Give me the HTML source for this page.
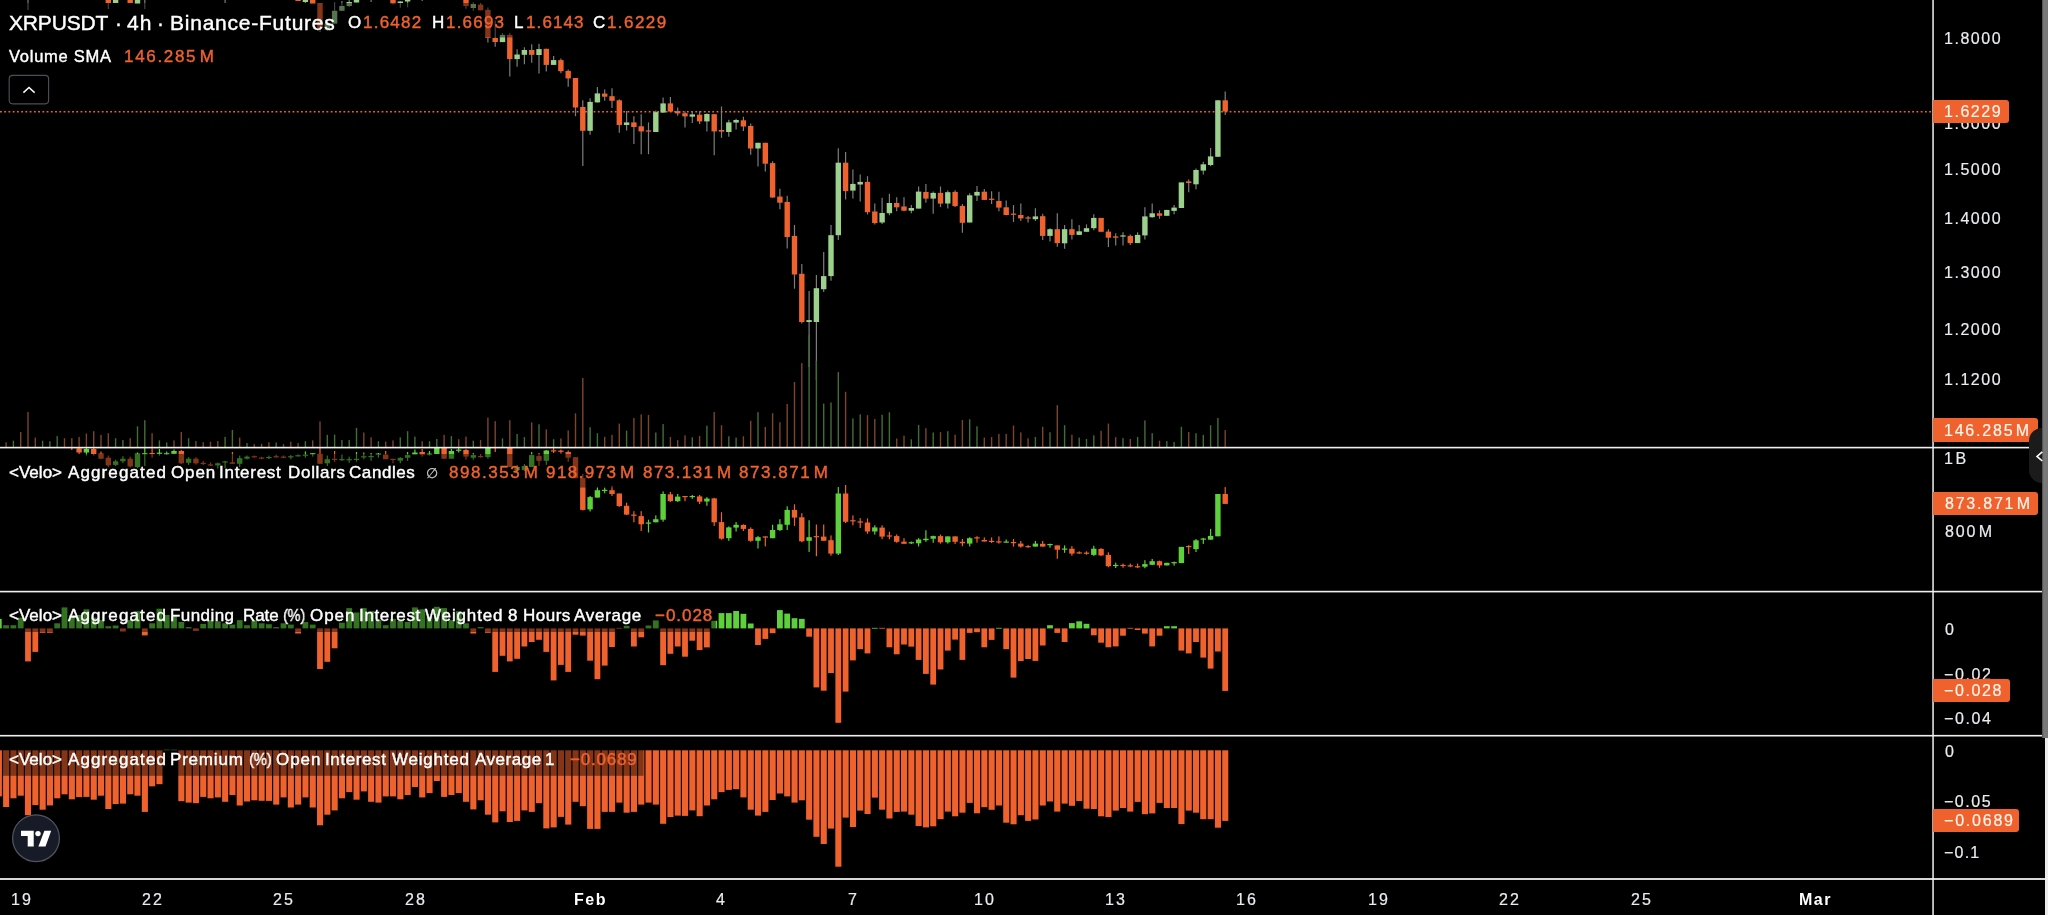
<!DOCTYPE html>
<html lang="en"><head><meta charset="utf-8"><title>XRPUSDT 4h Binance-Futures</title>
<style>
html,body{margin:0;padding:0;background:#000;}
body{width:2048px;height:915px;position:relative;overflow:hidden;font-family:"Liberation Sans",sans-serif;}
.t{position:absolute;white-space:pre;line-height:1;will-change:transform;}
.lg{-webkit-text-stroke:0.42px currentColor;}
.ax{-webkit-text-stroke:0.18px currentColor;}
.ts{display:inline-block;width:1.5px}
.lg .ts{width:2.5px}
.tag{position:absolute;left:1933px;background:#f0622d;border-radius:0 3px 3px 0;}
.t span{display:inline-block}

</style></head><body>
<svg width="2048" height="915" viewBox="0 0 2048 915" style="position:absolute;left:0;top:0">
<defs><clipPath id="c0"><rect x="0" y="0" width="1932" height="447"/></clipPath><clipPath id="c1"><rect x="0" y="448" width="1932" height="143"/></clipPath><clipPath id="c2"><rect x="0" y="592" width="1932" height="143"/></clipPath><clipPath id="c3"><rect x="0" y="736" width="1932" height="143"/></clipPath></defs>
<rect width="2048" height="915" fill="#000"/>
<g clip-path="url(#c0)">
<line x1="0" y1="111.7" x2="1933" y2="111.7" stroke="#f0622d" stroke-width="1.6" stroke-dasharray="1.8 2.44"/>
<g stroke="#7d7d80" stroke-width="1.2">
<line x1="298.1" y1="-5" x2="298.1" y2="1"/>
<line x1="305.4" y1="-3" x2="305.4" y2="3"/>
<line x1="312.7" y1="-3" x2="312.7" y2="4"/>
<line x1="320" y1="3" x2="320" y2="32"/>
<line x1="327.3" y1="23" x2="327.3" y2="31"/>
<line x1="334.6" y1="2.5" x2="334.6" y2="23.6"/>
<line x1="341.9" y1="1" x2="341.9" y2="10.8"/>
<line x1="349.2" y1="0" x2="349.2" y2="7"/>
<line x1="356.5" y1="-2" x2="356.5" y2="2.5"/>
<line x1="371.1" y1="-3" x2="371.1" y2="2"/>
<line x1="393" y1="-2" x2="393" y2="4.6"/>
<line x1="400.3" y1="1" x2="400.3" y2="7.7"/>
<line x1="407.6" y1="-2" x2="407.6" y2="7.2"/>
<line x1="422.2" y1="-3" x2="422.2" y2="1"/>
<line x1="466" y1="-2" x2="466" y2="8.7"/>
<line x1="473.3" y1="2.5" x2="473.3" y2="10.8"/>
<line x1="480.6" y1="3" x2="480.6" y2="10.3"/>
<line x1="487.9" y1="7.5" x2="487.9" y2="42.6"/>
<line x1="495.2" y1="20.5" x2="495.2" y2="46.7"/>
<line x1="502.5" y1="32.9" x2="502.5" y2="42.1"/>
<line x1="509.8" y1="32.9" x2="509.8" y2="76.5"/>
<line x1="517.1" y1="49.3" x2="517.1" y2="66.8"/>
<line x1="524.4" y1="47.3" x2="524.4" y2="64.2"/>
<line x1="531.7" y1="44.2" x2="531.7" y2="62.7"/>
<line x1="539" y1="43.7" x2="539" y2="73.5"/>
<line x1="546.3" y1="48.8" x2="546.3" y2="71.4"/>
<line x1="553.6" y1="56" x2="553.6" y2="64.9"/>
<line x1="560.9" y1="58.6" x2="560.9" y2="73.2"/>
<line x1="568.2" y1="69.4" x2="568.2" y2="86.8"/>
<line x1="575.5" y1="78" x2="575.5" y2="116.2"/>
<line x1="582.8" y1="100.3" x2="582.8" y2="166"/>
<line x1="590.1" y1="98.3" x2="590.1" y2="134.7"/>
<line x1="597.4" y1="87" x2="597.4" y2="102.4"/>
<line x1="604.7" y1="89.5" x2="604.7" y2="100.8"/>
<line x1="612" y1="88.3" x2="612" y2="108"/>
<line x1="619.3" y1="99.3" x2="619.3" y2="132.7"/>
<line x1="626.6" y1="111" x2="626.6" y2="130.6"/>
<line x1="633.9" y1="116.2" x2="633.9" y2="144"/>
<line x1="641.2" y1="114.2" x2="641.2" y2="154.2"/>
<line x1="648.5" y1="122.4" x2="648.5" y2="154.2"/>
<line x1="655.8" y1="110.6" x2="655.8" y2="132"/>
<line x1="663.1" y1="97.5" x2="663.1" y2="112.6"/>
<line x1="670.4" y1="96.9" x2="670.4" y2="111.6"/>
<line x1="677.7" y1="107.5" x2="677.7" y2="115.7"/>
<line x1="685" y1="111.6" x2="685" y2="127.5"/>
<line x1="692.3" y1="111" x2="692.3" y2="122.9"/>
<line x1="699.6" y1="111" x2="699.6" y2="124"/>
<line x1="706.9" y1="113.2" x2="706.9" y2="131.6"/>
<line x1="714.2" y1="114.2" x2="714.2" y2="155.3"/>
<line x1="721.5" y1="106.5" x2="721.5" y2="137.8"/>
<line x1="728.8" y1="119.8" x2="728.8" y2="136.8"/>
<line x1="736.1" y1="118.8" x2="736.1" y2="129.6"/>
<line x1="743.4" y1="116.7" x2="743.4" y2="131"/>
<line x1="750.7" y1="123.4" x2="750.7" y2="154.7"/>
<line x1="758" y1="142.8" x2="758" y2="166.5"/>
<line x1="765.3" y1="142.8" x2="765.3" y2="171.6"/>
<line x1="772.6" y1="161.3" x2="772.6" y2="197.8"/>
<line x1="779.9" y1="188.8" x2="779.9" y2="209.3"/>
<line x1="787.2" y1="195.7" x2="787.2" y2="248.5"/>
<line x1="794.5" y1="224.9" x2="794.5" y2="288.7"/>
<line x1="801.8" y1="263.9" x2="801.8" y2="323.6"/>
<line x1="809.1" y1="291" x2="809.1" y2="367"/>
<line x1="816.4" y1="274.9" x2="816.4" y2="380"/>
<line x1="823.7" y1="252" x2="823.7" y2="292.1"/>
<line x1="831" y1="224.9" x2="831" y2="280.7"/>
<line x1="838.3" y1="148.3" x2="838.3" y2="240"/>
<line x1="845.6" y1="152.1" x2="845.6" y2="199.4"/>
<line x1="852.9" y1="169.6" x2="852.9" y2="198.6"/>
<line x1="860.2" y1="174.4" x2="860.2" y2="201.4"/>
<line x1="867.5" y1="176.2" x2="867.5" y2="214.5"/>
<line x1="874.8" y1="203.5" x2="874.8" y2="224.5"/>
<line x1="882.1" y1="197.8" x2="882.1" y2="224"/>
<line x1="889.4" y1="193.7" x2="889.4" y2="215.3"/>
<line x1="896.7" y1="197.3" x2="896.7" y2="211.2"/>
<line x1="904" y1="197.3" x2="904" y2="211.2"/>
<line x1="911.3" y1="205" x2="911.3" y2="213.2"/>
<line x1="918.6" y1="186.5" x2="918.6" y2="208.6"/>
<line x1="925.9" y1="184" x2="925.9" y2="202.7"/>
<line x1="933.2" y1="191.6" x2="933.2" y2="213.7"/>
<line x1="940.5" y1="186.5" x2="940.5" y2="207.1"/>
<line x1="947.8" y1="190.6" x2="947.8" y2="208.4"/>
<line x1="955.1" y1="190.2" x2="955.1" y2="207.1"/>
<line x1="962.4" y1="204" x2="962.4" y2="232.8"/>
<line x1="969.7" y1="193.3" x2="969.7" y2="222.5"/>
<line x1="977" y1="186.1" x2="977" y2="201"/>
<line x1="984.3" y1="189.1" x2="984.3" y2="199.9"/>
<line x1="991.6" y1="191.2" x2="991.6" y2="204"/>
<line x1="998.9" y1="191.7" x2="998.9" y2="211.2"/>
<line x1="1006.2" y1="200.4" x2="1006.2" y2="215.3"/>
<line x1="1013.5" y1="205.1" x2="1013.5" y2="222"/>
<line x1="1020.8" y1="203.5" x2="1020.8" y2="221"/>
<line x1="1028.1" y1="215.9" x2="1028.1" y2="222.5"/>
<line x1="1035.4" y1="208.2" x2="1035.4" y2="221"/>
<line x1="1042.7" y1="213.8" x2="1042.7" y2="240"/>
<line x1="1050" y1="228.2" x2="1050" y2="241.5"/>
<line x1="1057.3" y1="213.3" x2="1057.3" y2="246.7"/>
<line x1="1064.6" y1="225.1" x2="1064.6" y2="248.7"/>
<line x1="1071.9" y1="219.2" x2="1071.9" y2="239.5"/>
<line x1="1079.2" y1="225.1" x2="1079.2" y2="234.9"/>
<line x1="1086.5" y1="224.4" x2="1086.5" y2="231.8"/>
<line x1="1093.8" y1="214.3" x2="1093.8" y2="230.2"/>
<line x1="1101.1" y1="217.9" x2="1101.1" y2="231.8"/>
<line x1="1108.4" y1="229.2" x2="1108.4" y2="247"/>
<line x1="1115.7" y1="233.3" x2="1115.7" y2="245.4"/>
<line x1="1123" y1="232.3" x2="1123" y2="245.4"/>
<line x1="1130.3" y1="234.4" x2="1130.3" y2="244.9"/>
<line x1="1137.6" y1="232.3" x2="1137.6" y2="243.1"/>
<line x1="1144.9" y1="207.3" x2="1144.9" y2="239.6"/>
<line x1="1152.2" y1="203.6" x2="1152.2" y2="217.8"/>
<line x1="1159.5" y1="210.3" x2="1159.5" y2="218.8"/>
<line x1="1166.8" y1="209.9" x2="1166.8" y2="215.8"/>
<line x1="1174.1" y1="205" x2="1174.1" y2="214.3"/>
<line x1="1181.4" y1="182.4" x2="1181.4" y2="208"/>
<line x1="1188.7" y1="179.4" x2="1188.7" y2="192.2"/>
<line x1="1196" y1="168.6" x2="1196" y2="189.3"/>
<line x1="1203.3" y1="161.7" x2="1203.3" y2="174.5"/>
<line x1="1210.6" y1="147.9" x2="1210.6" y2="166.2"/>
<line x1="1217.9" y1="100.3" x2="1217.9" y2="156.8"/>
<line x1="1225.2" y1="91.4" x2="1225.2" y2="115"/>
<line x1="28" y1="-2" x2="28" y2="10"/>
<line x1="108.3" y1="-2" x2="108.3" y2="9"/>
<line x1="144.8" y1="-2" x2="144.8" y2="9"/>
<line x1="225.1" y1="-2" x2="225.1" y2="3"/>
</g>
<rect x="295.4" y="-5" width="5.4" height="6" fill="#f0622d"/>
<rect x="302.7" y="-3" width="5.4" height="5" fill="#9bd18c"/>
<rect x="310" y="-3" width="5.4" height="7" fill="#f0622d"/>
<rect x="317.3" y="3" width="5.4" height="25" fill="#f0622d"/>
<rect x="324.6" y="23.6" width="5.4" height="6.2" fill="#9bd18c"/>
<rect x="331.9" y="10.8" width="5.4" height="12.8" fill="#9bd18c"/>
<rect x="339.2" y="6" width="5.4" height="4.8" fill="#9bd18c"/>
<rect x="346.5" y="2" width="5.4" height="4" fill="#9bd18c"/>
<rect x="353.8" y="-2" width="5.4" height="4.5" fill="#9bd18c"/>
<rect x="368.4" y="-3" width="5.4" height="1.2" fill="#f0622d"/>
<rect x="390.3" y="-2" width="5.4" height="5.6" fill="#f0622d"/>
<rect x="397.6" y="1.5" width="5.4" height="1.5" fill="#9bd18c"/>
<rect x="404.9" y="-2" width="5.4" height="3.5" fill="#9bd18c"/>
<rect x="419.5" y="-3" width="5.4" height="1.2" fill="#f0622d"/>
<rect x="463.3" y="-2" width="5.4" height="8" fill="#f0622d"/>
<rect x="470.6" y="4" width="5.4" height="4" fill="#9bd18c"/>
<rect x="477.9" y="4.6" width="5.4" height="5.7" fill="#f0622d"/>
<rect x="485.2" y="9.8" width="5.4" height="28.2" fill="#f0622d"/>
<rect x="492.5" y="38" width="5.4" height="4" fill="#f0622d"/>
<rect x="499.8" y="34.9" width="5.4" height="7.2" fill="#9bd18c"/>
<rect x="507.1" y="34.9" width="5.4" height="24.2" fill="#f0622d"/>
<rect x="514.4" y="54.5" width="5.4" height="4.6" fill="#9bd18c"/>
<rect x="521.7" y="50" width="5.4" height="4.8" fill="#9bd18c"/>
<rect x="529" y="50" width="5.4" height="4.8" fill="#f0622d"/>
<rect x="536.3" y="49.1" width="5.4" height="5.9" fill="#9bd18c"/>
<rect x="543.6" y="48.8" width="5.4" height="16.1" fill="#f0622d"/>
<rect x="550.9" y="60.1" width="5.4" height="4.8" fill="#9bd18c"/>
<rect x="558.2" y="60.1" width="5.4" height="11.1" fill="#f0622d"/>
<rect x="565.5" y="70.9" width="5.4" height="7.5" fill="#f0622d"/>
<rect x="572.8" y="78" width="5.4" height="29.5" fill="#f0622d"/>
<rect x="580.1" y="107" width="5.4" height="23.8" fill="#f0622d"/>
<rect x="587.4" y="101.9" width="5.4" height="28.9" fill="#9bd18c"/>
<rect x="594.7" y="93.4" width="5.4" height="9" fill="#9bd18c"/>
<rect x="602" y="93.6" width="5.4" height="3.1" fill="#f0622d"/>
<rect x="609.3" y="96.2" width="5.4" height="4.6" fill="#f0622d"/>
<rect x="616.6" y="100.3" width="5.4" height="24.7" fill="#f0622d"/>
<rect x="623.9" y="122.4" width="5.4" height="2.6" fill="#9bd18c"/>
<rect x="631.2" y="122.4" width="5.4" height="4.6" fill="#f0622d"/>
<rect x="638.5" y="126.3" width="5.4" height="5.1" fill="#f0622d"/>
<rect x="645.8" y="130.4" width="5.4" height="1.2" fill="#f0622d"/>
<rect x="653.1" y="112.1" width="5.4" height="19.9" fill="#9bd18c"/>
<rect x="660.4" y="103.4" width="5.4" height="9.2" fill="#9bd18c"/>
<rect x="667.7" y="103.4" width="5.4" height="8.2" fill="#f0622d"/>
<rect x="675" y="111.1" width="5.4" height="2.3" fill="#f0622d"/>
<rect x="682.3" y="113.2" width="5.4" height="3.2" fill="#f0622d"/>
<rect x="689.6" y="114.4" width="5.4" height="2.3" fill="#9bd18c"/>
<rect x="696.9" y="114.7" width="5.4" height="6.7" fill="#f0622d"/>
<rect x="704.2" y="114" width="5.4" height="7.4" fill="#9bd18c"/>
<rect x="711.5" y="114.2" width="5.4" height="17.2" fill="#f0622d"/>
<rect x="718.8" y="130" width="5.4" height="1.6" fill="#f0622d"/>
<rect x="726.1" y="122.4" width="5.4" height="9.6" fill="#9bd18c"/>
<rect x="733.4" y="120" width="5.4" height="2.6" fill="#9bd18c"/>
<rect x="740.7" y="120.3" width="5.4" height="6.2" fill="#f0622d"/>
<rect x="748" y="126" width="5.4" height="22.5" fill="#f0622d"/>
<rect x="755.3" y="142.8" width="5.4" height="5.7" fill="#9bd18c"/>
<rect x="762.6" y="142.8" width="5.4" height="20.9" fill="#f0622d"/>
<rect x="769.9" y="163.1" width="5.4" height="34.4" fill="#f0622d"/>
<rect x="777.2" y="196.6" width="5.4" height="6.1" fill="#f0622d"/>
<rect x="784.5" y="201.9" width="5.4" height="35.1" fill="#f0622d"/>
<rect x="791.8" y="235.9" width="5.4" height="38.6" fill="#f0622d"/>
<rect x="799.1" y="273.8" width="5.4" height="48.2" fill="#f0622d"/>
<rect x="806.4" y="320.1" width="5.4" height="1.9" fill="#9bd18c"/>
<rect x="813.7" y="288.2" width="5.4" height="33.8" fill="#9bd18c"/>
<rect x="821" y="276.1" width="5.4" height="13.1" fill="#9bd18c"/>
<rect x="828.3" y="235.2" width="5.4" height="40.9" fill="#9bd18c"/>
<rect x="835.6" y="162.7" width="5.4" height="72.5" fill="#9bd18c"/>
<rect x="842.9" y="162.7" width="5.4" height="28.4" fill="#f0622d"/>
<rect x="850.2" y="183.9" width="5.4" height="6.7" fill="#9bd18c"/>
<rect x="857.5" y="181.9" width="5.4" height="2.6" fill="#9bd18c"/>
<rect x="864.8" y="181.9" width="5.4" height="30.3" fill="#f0622d"/>
<rect x="872.1" y="211.5" width="5.4" height="11.5" fill="#f0622d"/>
<rect x="879.4" y="213" width="5.4" height="9.5" fill="#9bd18c"/>
<rect x="886.7" y="203" width="5.4" height="10.2" fill="#9bd18c"/>
<rect x="894" y="203" width="5.4" height="4.3" fill="#f0622d"/>
<rect x="901.3" y="206.5" width="5.4" height="4.2" fill="#f0622d"/>
<rect x="908.6" y="208" width="5.4" height="2.7" fill="#9bd18c"/>
<rect x="915.9" y="191.6" width="5.4" height="17" fill="#9bd18c"/>
<rect x="923.2" y="192" width="5.4" height="6.6" fill="#f0622d"/>
<rect x="930.5" y="192.9" width="5.4" height="5.7" fill="#9bd18c"/>
<rect x="937.8" y="192.9" width="5.4" height="10.7" fill="#f0622d"/>
<rect x="945.1" y="192.2" width="5.4" height="11.3" fill="#9bd18c"/>
<rect x="952.4" y="191.9" width="5.4" height="14.2" fill="#f0622d"/>
<rect x="959.7" y="205.9" width="5.4" height="16.9" fill="#f0622d"/>
<rect x="967" y="195.3" width="5.4" height="27.2" fill="#9bd18c"/>
<rect x="974.3" y="191.9" width="5.4" height="3.7" fill="#9bd18c"/>
<rect x="981.6" y="191.7" width="5.4" height="8.2" fill="#f0622d"/>
<rect x="988.9" y="198.7" width="5.4" height="1.2" fill="#f0622d"/>
<rect x="996.2" y="201" width="5.4" height="6.6" fill="#f0622d"/>
<rect x="1003.5" y="207.3" width="5.4" height="7.7" fill="#f0622d"/>
<rect x="1010.8" y="213.6" width="5.4" height="1.2" fill="#f0622d"/>
<rect x="1018.1" y="215" width="5.4" height="3.4" fill="#f0622d"/>
<rect x="1025.4" y="217.4" width="5.4" height="1.2" fill="#f0622d"/>
<rect x="1032.7" y="216.4" width="5.4" height="2.8" fill="#9bd18c"/>
<rect x="1040" y="216.2" width="5.4" height="19.7" fill="#f0622d"/>
<rect x="1047.3" y="229.2" width="5.4" height="6.7" fill="#9bd18c"/>
<rect x="1054.6" y="229.2" width="5.4" height="13.9" fill="#f0622d"/>
<rect x="1061.9" y="229.2" width="5.4" height="14.1" fill="#9bd18c"/>
<rect x="1069.2" y="229.2" width="5.4" height="5.7" fill="#f0622d"/>
<rect x="1076.5" y="231.3" width="5.4" height="3.6" fill="#9bd18c"/>
<rect x="1083.8" y="228.2" width="5.4" height="3.6" fill="#9bd18c"/>
<rect x="1091.1" y="217.9" width="5.4" height="10.3" fill="#9bd18c"/>
<rect x="1098.4" y="217.9" width="5.4" height="13.9" fill="#f0622d"/>
<rect x="1105.7" y="231.6" width="5.4" height="6.1" fill="#f0622d"/>
<rect x="1113" y="236.4" width="5.4" height="1.3" fill="#f0622d"/>
<rect x="1120.3" y="235.4" width="5.4" height="1.2" fill="#9bd18c"/>
<rect x="1127.6" y="235.9" width="5.4" height="7.2" fill="#f0622d"/>
<rect x="1134.9" y="234.9" width="5.4" height="8.2" fill="#9bd18c"/>
<rect x="1142.2" y="216.4" width="5.4" height="19" fill="#9bd18c"/>
<rect x="1149.5" y="213.3" width="5.4" height="3.9" fill="#9bd18c"/>
<rect x="1156.8" y="213.3" width="5.4" height="2.5" fill="#f0622d"/>
<rect x="1164.1" y="209.9" width="5.4" height="5.9" fill="#9bd18c"/>
<rect x="1171.4" y="207.6" width="5.4" height="3.3" fill="#9bd18c"/>
<rect x="1178.7" y="182.4" width="5.4" height="25.6" fill="#9bd18c"/>
<rect x="1186" y="181.4" width="5.4" height="1.6" fill="#f0622d"/>
<rect x="1193.3" y="170" width="5.4" height="14.3" fill="#9bd18c"/>
<rect x="1200.6" y="164.3" width="5.4" height="6.3" fill="#9bd18c"/>
<rect x="1207.9" y="156.4" width="5.4" height="8.6" fill="#9bd18c"/>
<rect x="1215.2" y="100.3" width="5.4" height="56.5" fill="#9bd18c"/>
<rect x="1222.5" y="100.3" width="5.4" height="11.2" fill="#f0622d"/>
<rect x="105.6" y="-2" width="5.4" height="5" fill="#f0622d"/>
<rect x="112.9" y="-2" width="5.4" height="5" fill="#9bd18c"/>
<rect x="127.5" y="-2" width="5.4" height="5" fill="#f0622d"/>
<rect x="134.8" y="-2" width="5.4" height="6" fill="#9bd18c"/>
<rect x="5.4" y="442.3" width="1.4" height="4.7" fill="#7d442a"/>
<rect x="12.7" y="440.7" width="1.4" height="6.3" fill="#436d37"/>
<rect x="20" y="432" width="1.4" height="15" fill="#7d442a"/>
<rect x="27.3" y="412" width="1.4" height="35" fill="#7d442a"/>
<rect x="34.6" y="437.6" width="1.4" height="9.4" fill="#7d442a"/>
<rect x="41.9" y="440.7" width="1.4" height="6.3" fill="#436d37"/>
<rect x="49.2" y="441.2" width="1.4" height="5.8" fill="#436d37"/>
<rect x="56.5" y="436.1" width="1.4" height="10.9" fill="#436d37"/>
<rect x="63.8" y="438.2" width="1.4" height="8.8" fill="#7d442a"/>
<rect x="71.1" y="438.2" width="1.4" height="8.8" fill="#7d442a"/>
<rect x="78.4" y="436.9" width="1.4" height="10.1" fill="#7d442a"/>
<rect x="85.7" y="433.5" width="1.4" height="13.5" fill="#7d442a"/>
<rect x="93" y="431.2" width="1.4" height="15.8" fill="#7d442a"/>
<rect x="100.3" y="434.9" width="1.4" height="12.1" fill="#7d442a"/>
<rect x="107.6" y="433.2" width="1.4" height="13.8" fill="#7d442a"/>
<rect x="114.9" y="438.2" width="1.4" height="8.8" fill="#436d37"/>
<rect x="122.2" y="440" width="1.4" height="7" fill="#436d37"/>
<rect x="129.5" y="438.2" width="1.4" height="8.8" fill="#7d442a"/>
<rect x="136.8" y="426.3" width="1.4" height="20.7" fill="#436d37"/>
<rect x="144.1" y="420.2" width="1.4" height="26.8" fill="#436d37"/>
<rect x="151.4" y="433.2" width="1.4" height="13.8" fill="#7d442a"/>
<rect x="158.7" y="440.4" width="1.4" height="6.6" fill="#436d37"/>
<rect x="166" y="442.5" width="1.4" height="4.5" fill="#436d37"/>
<rect x="173.3" y="440.4" width="1.4" height="6.6" fill="#7d442a"/>
<rect x="180.6" y="432" width="1.4" height="15" fill="#7d442a"/>
<rect x="187.9" y="438.2" width="1.4" height="8.8" fill="#436d37"/>
<rect x="195.2" y="441" width="1.4" height="6" fill="#7d442a"/>
<rect x="202.5" y="442.2" width="1.4" height="4.8" fill="#7d442a"/>
<rect x="209.8" y="441.7" width="1.4" height="5.3" fill="#7d442a"/>
<rect x="217.1" y="441" width="1.4" height="6" fill="#7d442a"/>
<rect x="224.4" y="436.9" width="1.4" height="10.1" fill="#436d37"/>
<rect x="231.7" y="429.9" width="1.4" height="17.1" fill="#436d37"/>
<rect x="239" y="437.6" width="1.4" height="9.4" fill="#7d442a"/>
<rect x="246.3" y="443.1" width="1.4" height="3.9" fill="#436d37"/>
<rect x="253.6" y="444.1" width="1.4" height="2.9" fill="#7d442a"/>
<rect x="260.9" y="443.8" width="1.4" height="3.2" fill="#7d442a"/>
<rect x="268.2" y="442.3" width="1.4" height="4.7" fill="#7d442a"/>
<rect x="275.5" y="442.5" width="1.4" height="4.5" fill="#436d37"/>
<rect x="282.8" y="444.1" width="1.4" height="2.9" fill="#7d442a"/>
<rect x="290.1" y="441.7" width="1.4" height="5.3" fill="#7d442a"/>
<rect x="297.4" y="443.1" width="1.4" height="3.9" fill="#7d442a"/>
<rect x="304.7" y="441.2" width="1.4" height="5.8" fill="#436d37"/>
<rect x="312" y="440.4" width="1.4" height="6.6" fill="#7d442a"/>
<rect x="319.3" y="421.5" width="1.4" height="25.5" fill="#7d442a"/>
<rect x="326.6" y="434.9" width="1.4" height="12.1" fill="#436d37"/>
<rect x="333.9" y="434.6" width="1.4" height="12.4" fill="#436d37"/>
<rect x="341.2" y="440" width="1.4" height="7" fill="#436d37"/>
<rect x="348.5" y="440" width="1.4" height="7" fill="#436d37"/>
<rect x="355.8" y="427.9" width="1.4" height="19.1" fill="#436d37"/>
<rect x="363.1" y="432.5" width="1.4" height="14.5" fill="#7d442a"/>
<rect x="370.4" y="437.3" width="1.4" height="9.7" fill="#7d442a"/>
<rect x="377.7" y="441.2" width="1.4" height="5.8" fill="#436d37"/>
<rect x="385" y="441.7" width="1.4" height="5.3" fill="#7d442a"/>
<rect x="392.3" y="440.4" width="1.4" height="6.6" fill="#7d442a"/>
<rect x="399.6" y="437.4" width="1.4" height="9.6" fill="#436d37"/>
<rect x="406.9" y="431.2" width="1.4" height="15.8" fill="#436d37"/>
<rect x="414.2" y="436.6" width="1.4" height="10.4" fill="#436d37"/>
<rect x="421.5" y="441.2" width="1.4" height="5.8" fill="#7d442a"/>
<rect x="428.8" y="441.2" width="1.4" height="5.8" fill="#436d37"/>
<rect x="436.1" y="439" width="1.4" height="8" fill="#436d37"/>
<rect x="443.4" y="434.9" width="1.4" height="12.1" fill="#7d442a"/>
<rect x="450.7" y="436.1" width="1.4" height="10.9" fill="#436d37"/>
<rect x="458" y="439.2" width="1.4" height="7.8" fill="#7d442a"/>
<rect x="465.3" y="436.6" width="1.4" height="10.4" fill="#7d442a"/>
<rect x="472.6" y="440.7" width="1.4" height="6.3" fill="#436d37"/>
<rect x="479.9" y="440" width="1.4" height="7" fill="#7d442a"/>
<rect x="487.2" y="417.6" width="1.4" height="29.4" fill="#7d442a"/>
<rect x="494.5" y="421.2" width="1.4" height="25.8" fill="#7d442a"/>
<rect x="501.8" y="438.4" width="1.4" height="8.6" fill="#436d37"/>
<rect x="509.1" y="420.2" width="1.4" height="26.8" fill="#7d442a"/>
<rect x="516.4" y="434" width="1.4" height="13" fill="#436d37"/>
<rect x="523.7" y="437.1" width="1.4" height="9.9" fill="#436d37"/>
<rect x="531" y="422.5" width="1.4" height="24.5" fill="#7d442a"/>
<rect x="538.3" y="424.3" width="1.4" height="22.7" fill="#436d37"/>
<rect x="545.6" y="429.4" width="1.4" height="17.6" fill="#7d442a"/>
<rect x="552.9" y="439.2" width="1.4" height="7.8" fill="#436d37"/>
<rect x="560.2" y="438.4" width="1.4" height="8.6" fill="#7d442a"/>
<rect x="567.5" y="430.4" width="1.4" height="16.6" fill="#7d442a"/>
<rect x="574.8" y="413.3" width="1.4" height="33.7" fill="#7d442a"/>
<rect x="582.1" y="378" width="1.4" height="69" fill="#7d442a"/>
<rect x="589.4" y="427.2" width="1.4" height="19.8" fill="#436d37"/>
<rect x="596.7" y="433.2" width="1.4" height="13.8" fill="#436d37"/>
<rect x="604" y="436.8" width="1.4" height="10.2" fill="#7d442a"/>
<rect x="611.3" y="434.9" width="1.4" height="12.1" fill="#7d442a"/>
<rect x="618.6" y="423.6" width="1.4" height="23.4" fill="#7d442a"/>
<rect x="625.9" y="430.6" width="1.4" height="16.4" fill="#436d37"/>
<rect x="633.2" y="418.1" width="1.4" height="28.9" fill="#7d442a"/>
<rect x="640.5" y="414.4" width="1.4" height="32.6" fill="#7d442a"/>
<rect x="647.8" y="414.9" width="1.4" height="32.1" fill="#7d442a"/>
<rect x="655.1" y="432.5" width="1.4" height="14.5" fill="#436d37"/>
<rect x="662.4" y="424.1" width="1.4" height="22.9" fill="#436d37"/>
<rect x="669.7" y="437" width="1.4" height="10" fill="#7d442a"/>
<rect x="677" y="440.1" width="1.4" height="6.9" fill="#7d442a"/>
<rect x="684.3" y="435.4" width="1.4" height="11.6" fill="#7d442a"/>
<rect x="691.6" y="437.3" width="1.4" height="9.7" fill="#436d37"/>
<rect x="698.9" y="436" width="1.4" height="11" fill="#7d442a"/>
<rect x="706.2" y="425.7" width="1.4" height="21.3" fill="#436d37"/>
<rect x="713.5" y="412.1" width="1.4" height="34.9" fill="#7d442a"/>
<rect x="720.8" y="425.2" width="1.4" height="21.8" fill="#7d442a"/>
<rect x="728.1" y="436.3" width="1.4" height="10.7" fill="#436d37"/>
<rect x="735.4" y="437.6" width="1.4" height="9.4" fill="#436d37"/>
<rect x="742.7" y="436.3" width="1.4" height="10.7" fill="#7d442a"/>
<rect x="750" y="420.8" width="1.4" height="26.2" fill="#7d442a"/>
<rect x="757.3" y="412.2" width="1.4" height="34.8" fill="#436d37"/>
<rect x="764.6" y="427" width="1.4" height="20" fill="#7d442a"/>
<rect x="771.9" y="413.2" width="1.4" height="33.8" fill="#7d442a"/>
<rect x="779.2" y="422.2" width="1.4" height="24.8" fill="#7d442a"/>
<rect x="786.5" y="404" width="1.4" height="43" fill="#7d442a"/>
<rect x="793.8" y="382" width="1.4" height="65" fill="#7d442a"/>
<rect x="801.1" y="363.1" width="1.4" height="83.9" fill="#7d442a"/>
<rect x="808.4" y="335" width="1.4" height="112" fill="#436d37"/>
<rect x="815.7" y="360.7" width="1.4" height="86.3" fill="#436d37"/>
<rect x="823" y="403.6" width="1.4" height="43.4" fill="#436d37"/>
<rect x="830.3" y="402.5" width="1.4" height="44.5" fill="#436d37"/>
<rect x="837.6" y="372.1" width="1.4" height="74.9" fill="#436d37"/>
<rect x="844.9" y="391.8" width="1.4" height="55.2" fill="#7d442a"/>
<rect x="852.2" y="418.4" width="1.4" height="28.6" fill="#436d37"/>
<rect x="859.5" y="414.4" width="1.4" height="32.6" fill="#436d37"/>
<rect x="866.8" y="415.1" width="1.4" height="31.9" fill="#7d442a"/>
<rect x="874.1" y="418.9" width="1.4" height="28.1" fill="#7d442a"/>
<rect x="881.4" y="414.8" width="1.4" height="32.2" fill="#436d37"/>
<rect x="888.7" y="412.3" width="1.4" height="34.7" fill="#436d37"/>
<rect x="896" y="438.5" width="1.4" height="8.5" fill="#7d442a"/>
<rect x="903.3" y="435.7" width="1.4" height="11.3" fill="#7d442a"/>
<rect x="910.6" y="439.3" width="1.4" height="7.7" fill="#436d37"/>
<rect x="917.9" y="424.9" width="1.4" height="22.1" fill="#436d37"/>
<rect x="925.2" y="428.2" width="1.4" height="18.8" fill="#7d442a"/>
<rect x="932.5" y="432.5" width="1.4" height="14.5" fill="#436d37"/>
<rect x="939.8" y="432.1" width="1.4" height="14.9" fill="#7d442a"/>
<rect x="947.1" y="431.2" width="1.4" height="15.8" fill="#436d37"/>
<rect x="954.4" y="434.7" width="1.4" height="12.3" fill="#7d442a"/>
<rect x="961.7" y="420" width="1.4" height="27" fill="#7d442a"/>
<rect x="969" y="419.3" width="1.4" height="27.7" fill="#436d37"/>
<rect x="976.3" y="426.3" width="1.4" height="20.7" fill="#436d37"/>
<rect x="983.6" y="437.6" width="1.4" height="9.4" fill="#7d442a"/>
<rect x="990.9" y="437" width="1.4" height="10" fill="#7d442a"/>
<rect x="998.2" y="433.9" width="1.4" height="13.1" fill="#7d442a"/>
<rect x="1005.5" y="433.9" width="1.4" height="13.1" fill="#7d442a"/>
<rect x="1012.8" y="425.5" width="1.4" height="21.5" fill="#7d442a"/>
<rect x="1020.1" y="432.4" width="1.4" height="14.6" fill="#7d442a"/>
<rect x="1027.4" y="438.3" width="1.4" height="8.7" fill="#7d442a"/>
<rect x="1034.7" y="437" width="1.4" height="10" fill="#436d37"/>
<rect x="1042" y="426.8" width="1.4" height="20.2" fill="#7d442a"/>
<rect x="1049.3" y="432.2" width="1.4" height="14.8" fill="#436d37"/>
<rect x="1056.6" y="405.2" width="1.4" height="41.8" fill="#7d442a"/>
<rect x="1063.9" y="425.2" width="1.4" height="21.8" fill="#436d37"/>
<rect x="1071.2" y="434.7" width="1.4" height="12.3" fill="#7d442a"/>
<rect x="1078.5" y="437.6" width="1.4" height="9.4" fill="#436d37"/>
<rect x="1085.8" y="439" width="1.4" height="8" fill="#436d37"/>
<rect x="1093.1" y="435.4" width="1.4" height="11.6" fill="#436d37"/>
<rect x="1100.4" y="430.8" width="1.4" height="16.2" fill="#7d442a"/>
<rect x="1107.7" y="423.6" width="1.4" height="23.4" fill="#7d442a"/>
<rect x="1115" y="437.1" width="1.4" height="9.9" fill="#7d442a"/>
<rect x="1122.3" y="438.1" width="1.4" height="8.9" fill="#436d37"/>
<rect x="1129.6" y="439" width="1.4" height="8" fill="#7d442a"/>
<rect x="1136.9" y="437" width="1.4" height="10" fill="#436d37"/>
<rect x="1144.2" y="420.4" width="1.4" height="26.6" fill="#436d37"/>
<rect x="1151.5" y="433.2" width="1.4" height="13.8" fill="#436d37"/>
<rect x="1158.8" y="440.7" width="1.4" height="6.3" fill="#7d442a"/>
<rect x="1166.1" y="441.1" width="1.4" height="5.9" fill="#436d37"/>
<rect x="1173.4" y="441.9" width="1.4" height="5.1" fill="#436d37"/>
<rect x="1180.7" y="426.8" width="1.4" height="20.2" fill="#436d37"/>
<rect x="1188" y="432" width="1.4" height="15" fill="#7d442a"/>
<rect x="1195.3" y="433.2" width="1.4" height="13.8" fill="#436d37"/>
<rect x="1202.6" y="434.9" width="1.4" height="12.1" fill="#436d37"/>
<rect x="1209.9" y="425.2" width="1.4" height="21.8" fill="#436d37"/>
<rect x="1217.2" y="418" width="1.4" height="29" fill="#436d37"/>
<rect x="1224.5" y="430.1" width="1.4" height="16.9" fill="#7d442a"/>
</g>
<g clip-path="url(#c1)">
<rect x="71.2" y="446" width="1.2" height="4" fill="#f0622d"/>
<rect x="69.1" y="446" width="5.4" height="1.2" fill="#f0622d"/>
<rect x="78.5" y="446" width="1.2" height="8" fill="#f0622d"/>
<rect x="76.4" y="448.4" width="5.4" height="4.1" fill="#f0622d"/>
<rect x="85.8" y="446" width="1.2" height="9.6" fill="#5dd03b"/>
<rect x="83.7" y="449" width="5.4" height="3.5" fill="#5dd03b"/>
<rect x="93.1" y="446" width="1.2" height="9.6" fill="#f0622d"/>
<rect x="91" y="449" width="5.4" height="5" fill="#f0622d"/>
<rect x="100.4" y="451.5" width="1.2" height="7.7" fill="#f0622d"/>
<rect x="98.3" y="453.6" width="5.4" height="5.1" fill="#f0622d"/>
<rect x="107.7" y="455.6" width="1.2" height="11.4" fill="#f0622d"/>
<rect x="105.6" y="457.7" width="5.4" height="7.7" fill="#f0622d"/>
<rect x="115" y="459.7" width="1.2" height="6.3" fill="#5dd03b"/>
<rect x="112.9" y="461.3" width="5.4" height="3.6" fill="#5dd03b"/>
<rect x="122.3" y="456.1" width="1.2" height="6.9" fill="#5dd03b"/>
<rect x="120.2" y="458.7" width="5.4" height="2.6" fill="#5dd03b"/>
<rect x="129.6" y="456.6" width="1.2" height="10.9" fill="#f0622d"/>
<rect x="127.5" y="458.7" width="5.4" height="7.7" fill="#f0622d"/>
<rect x="136.9" y="452.5" width="1.2" height="15.5" fill="#5dd03b"/>
<rect x="134.8" y="453.6" width="5.4" height="13.4" fill="#5dd03b"/>
<rect x="144.2" y="447.6" width="1.2" height="18.4" fill="#5dd03b"/>
<rect x="142.1" y="453.2" width="5.4" height="1.2" fill="#5dd03b"/>
<rect x="151.5" y="448.4" width="1.2" height="9.3" fill="#f0622d"/>
<rect x="149.4" y="453" width="5.4" height="1.2" fill="#f0622d"/>
<rect x="158.8" y="449" width="1.2" height="6.6" fill="#5dd03b"/>
<rect x="156.7" y="452.6" width="5.4" height="1.2" fill="#5dd03b"/>
<rect x="166.1" y="451.5" width="1.2" height="3.6" fill="#5dd03b"/>
<rect x="164" y="453.2" width="5.4" height="1.2" fill="#5dd03b"/>
<rect x="173.4" y="449.5" width="1.2" height="4.3" fill="#5dd03b"/>
<rect x="171.3" y="451" width="5.4" height="2.8" fill="#5dd03b"/>
<rect x="180.7" y="450" width="1.2" height="14" fill="#f0622d"/>
<rect x="178.6" y="451" width="5.4" height="12.3" fill="#f0622d"/>
<rect x="188" y="457.2" width="1.2" height="7.7" fill="#5dd03b"/>
<rect x="185.9" y="458.7" width="5.4" height="4.1" fill="#5dd03b"/>
<rect x="195.3" y="457.2" width="1.2" height="7.3" fill="#f0622d"/>
<rect x="193.2" y="458.7" width="5.4" height="4.6" fill="#f0622d"/>
<rect x="202.6" y="461" width="1.2" height="4" fill="#f0622d"/>
<rect x="200.5" y="462.8" width="5.4" height="1.2" fill="#f0622d"/>
<rect x="209.9" y="462.3" width="1.2" height="3.7" fill="#f0622d"/>
<rect x="207.8" y="464.4" width="5.4" height="1.2" fill="#f0622d"/>
<rect x="217.2" y="462.5" width="1.2" height="6" fill="#5dd03b"/>
<rect x="215.1" y="463.3" width="5.4" height="2.1" fill="#5dd03b"/>
<rect x="224.5" y="460.8" width="1.2" height="7.2" fill="#5dd03b"/>
<rect x="222.4" y="461.4" width="5.4" height="1.2" fill="#5dd03b"/>
<rect x="231.8" y="452" width="1.2" height="11.8" fill="#f0622d"/>
<rect x="229.7" y="462.3" width="5.4" height="1.5" fill="#f0622d"/>
<rect x="239.1" y="455.6" width="1.2" height="11.4" fill="#5dd03b"/>
<rect x="237" y="458.2" width="5.4" height="5.6" fill="#5dd03b"/>
<rect x="246.4" y="455.5" width="1.2" height="4" fill="#5dd03b"/>
<rect x="244.3" y="456.6" width="5.4" height="2.1" fill="#5dd03b"/>
<rect x="253.7" y="455.5" width="1.2" height="2" fill="#f0622d"/>
<rect x="251.6" y="456.2" width="5.4" height="1.2" fill="#f0622d"/>
<rect x="261" y="456.8" width="1.2" height="2.2" fill="#f0622d"/>
<rect x="258.9" y="457.5" width="5.4" height="1.2" fill="#f0622d"/>
<rect x="268.3" y="455.6" width="1.2" height="3.4" fill="#5dd03b"/>
<rect x="266.2" y="457" width="5.4" height="1.2" fill="#5dd03b"/>
<rect x="275.6" y="454.6" width="1.2" height="3.1" fill="#f0622d"/>
<rect x="273.5" y="456.2" width="5.4" height="1.2" fill="#f0622d"/>
<rect x="282.9" y="455.5" width="1.2" height="2.5" fill="#f0622d"/>
<rect x="280.8" y="456.6" width="5.4" height="1.2" fill="#f0622d"/>
<rect x="290.2" y="455.1" width="1.2" height="4.1" fill="#5dd03b"/>
<rect x="288.1" y="456.2" width="5.4" height="1.2" fill="#5dd03b"/>
<rect x="297.5" y="454.5" width="1.2" height="2" fill="#5dd03b"/>
<rect x="295.4" y="455.2" width="5.4" height="1.2" fill="#5dd03b"/>
<rect x="304.8" y="451.5" width="1.2" height="6.2" fill="#5dd03b"/>
<rect x="302.7" y="454.6" width="5.4" height="1.2" fill="#5dd03b"/>
<rect x="312.1" y="453" width="1.2" height="3.6" fill="#5dd03b"/>
<rect x="310" y="453.2" width="5.4" height="1.2" fill="#5dd03b"/>
<rect x="319.4" y="447.6" width="1.2" height="16.2" fill="#f0622d"/>
<rect x="317.3" y="454" width="5.4" height="9.8" fill="#f0622d"/>
<rect x="326.7" y="455.6" width="1.2" height="10.4" fill="#5dd03b"/>
<rect x="324.6" y="459.2" width="5.4" height="4.1" fill="#5dd03b"/>
<rect x="334" y="451" width="1.2" height="10.8" fill="#f0622d"/>
<rect x="331.9" y="458.8" width="5.4" height="1.2" fill="#f0622d"/>
<rect x="341.3" y="454.6" width="1.2" height="6.2" fill="#5dd03b"/>
<rect x="339.2" y="459.1" width="5.4" height="1.2" fill="#5dd03b"/>
<rect x="348.6" y="456.6" width="1.2" height="6.2" fill="#5dd03b"/>
<rect x="346.5" y="459.1" width="5.4" height="1.2" fill="#5dd03b"/>
<rect x="355.9" y="452" width="1.2" height="9.8" fill="#5dd03b"/>
<rect x="353.8" y="458.8" width="5.4" height="1.2" fill="#5dd03b"/>
<rect x="363.2" y="452.5" width="1.2" height="6.7" fill="#5dd03b"/>
<rect x="361.1" y="456.2" width="5.4" height="1.2" fill="#5dd03b"/>
<rect x="370.5" y="453" width="1.2" height="7.8" fill="#5dd03b"/>
<rect x="368.4" y="456" width="5.4" height="1.2" fill="#5dd03b"/>
<rect x="377.8" y="453" width="1.2" height="4.7" fill="#5dd03b"/>
<rect x="375.7" y="453.6" width="5.4" height="1.2" fill="#5dd03b"/>
<rect x="385.1" y="451" width="1.2" height="8.2" fill="#f0622d"/>
<rect x="383" y="454.6" width="5.4" height="4.6" fill="#f0622d"/>
<rect x="392.4" y="458.7" width="1.2" height="4.6" fill="#f0622d"/>
<rect x="390.3" y="458.8" width="5.4" height="1.2" fill="#f0622d"/>
<rect x="399.7" y="457.2" width="1.2" height="6.1" fill="#5dd03b"/>
<rect x="397.6" y="457.9" width="5.4" height="2.8" fill="#5dd03b"/>
<rect x="407" y="452" width="1.2" height="8.8" fill="#5dd03b"/>
<rect x="404.9" y="455.1" width="5.4" height="2.6" fill="#5dd03b"/>
<rect x="414.3" y="449.5" width="1.2" height="5.1" fill="#5dd03b"/>
<rect x="412.2" y="452.5" width="5.4" height="2.1" fill="#5dd03b"/>
<rect x="421.6" y="449" width="1.2" height="7.6" fill="#f0622d"/>
<rect x="419.5" y="452" width="5.4" height="2.6" fill="#f0622d"/>
<rect x="428.9" y="451" width="1.2" height="4.6" fill="#5dd03b"/>
<rect x="426.8" y="453.6" width="5.4" height="1.2" fill="#5dd03b"/>
<rect x="436.2" y="447.5" width="1.2" height="6.5" fill="#5dd03b"/>
<rect x="434.1" y="447.5" width="5.4" height="6.5" fill="#5dd03b"/>
<rect x="443.5" y="447.5" width="1.2" height="11.2" fill="#f0622d"/>
<rect x="441.4" y="447.5" width="5.4" height="11.2" fill="#f0622d"/>
<rect x="450.8" y="449" width="1.2" height="9.7" fill="#5dd03b"/>
<rect x="448.7" y="451" width="5.4" height="7.7" fill="#5dd03b"/>
<rect x="458.1" y="447.9" width="1.2" height="4.6" fill="#5dd03b"/>
<rect x="456" y="449.6" width="5.4" height="1.2" fill="#5dd03b"/>
<rect x="465.4" y="449" width="1.2" height="10.7" fill="#f0622d"/>
<rect x="463.3" y="450" width="5.4" height="6.6" fill="#f0622d"/>
<rect x="472.7" y="453" width="1.2" height="6.7" fill="#5dd03b"/>
<rect x="470.6" y="455.1" width="5.4" height="2.6" fill="#5dd03b"/>
<rect x="480" y="454" width="1.2" height="3.7" fill="#f0622d"/>
<rect x="477.9" y="456" width="5.4" height="1.2" fill="#f0622d"/>
<rect x="487.3" y="447.5" width="1.2" height="11.2" fill="#5dd03b"/>
<rect x="485.2" y="447.5" width="5.4" height="9.6" fill="#5dd03b"/>
<rect x="494.6" y="446" width="1.2" height="6" fill="#f0622d"/>
<rect x="492.5" y="446" width="5.4" height="1.2" fill="#f0622d"/>
<rect x="509.2" y="447.5" width="1.2" height="19.5" fill="#f0622d"/>
<rect x="507.1" y="447.5" width="5.4" height="19.5" fill="#f0622d"/>
<rect x="516.5" y="465" width="1.2" height="6" fill="#5dd03b"/>
<rect x="514.4" y="467" width="5.4" height="3" fill="#5dd03b"/>
<rect x="523.8" y="464" width="1.2" height="7" fill="#5dd03b"/>
<rect x="521.7" y="466" width="5.4" height="4" fill="#5dd03b"/>
<rect x="531.1" y="452" width="1.2" height="15" fill="#5dd03b"/>
<rect x="529" y="455.1" width="5.4" height="11.9" fill="#5dd03b"/>
<rect x="538.4" y="453" width="1.2" height="12.9" fill="#f0622d"/>
<rect x="536.3" y="456.1" width="5.4" height="4.7" fill="#f0622d"/>
<rect x="545.7" y="450" width="1.2" height="14.9" fill="#5dd03b"/>
<rect x="543.6" y="450.5" width="5.4" height="10.3" fill="#5dd03b"/>
<rect x="553" y="447.9" width="1.2" height="5.1" fill="#f0622d"/>
<rect x="550.9" y="450.3" width="5.4" height="1.2" fill="#f0622d"/>
<rect x="560.3" y="449.5" width="1.2" height="4.1" fill="#f0622d"/>
<rect x="558.2" y="450.6" width="5.4" height="1.2" fill="#f0622d"/>
<rect x="567.6" y="450.5" width="1.2" height="11.3" fill="#f0622d"/>
<rect x="565.5" y="452" width="5.4" height="5.7" fill="#f0622d"/>
<rect x="574.9" y="457.2" width="1.2" height="21" fill="#f0622d"/>
<rect x="572.8" y="457.2" width="5.4" height="21" fill="#f0622d"/>
<rect x="582.2" y="474" width="1.2" height="36.5" fill="#f0622d"/>
<rect x="580.1" y="478.2" width="5.4" height="31.7" fill="#f0622d"/>
<rect x="589.5" y="496" width="1.2" height="15.5" fill="#5dd03b"/>
<rect x="587.4" y="497.1" width="5.4" height="12.3" fill="#5dd03b"/>
<rect x="596.8" y="487.3" width="1.2" height="10.3" fill="#5dd03b"/>
<rect x="594.7" y="490.2" width="5.4" height="7.4" fill="#5dd03b"/>
<rect x="604.1" y="487.5" width="1.2" height="5.8" fill="#5dd03b"/>
<rect x="602" y="489.8" width="5.4" height="1.2" fill="#5dd03b"/>
<rect x="611.4" y="485.8" width="1.2" height="10.2" fill="#f0622d"/>
<rect x="609.3" y="490.2" width="5.4" height="3.8" fill="#f0622d"/>
<rect x="618.7" y="493.5" width="1.2" height="13.3" fill="#f0622d"/>
<rect x="616.6" y="493.5" width="5.4" height="12.6" fill="#f0622d"/>
<rect x="626" y="502.7" width="1.2" height="12.3" fill="#f0622d"/>
<rect x="623.9" y="505.8" width="5.4" height="8.8" fill="#f0622d"/>
<rect x="633.3" y="511.2" width="1.2" height="11.1" fill="#f0622d"/>
<rect x="631.2" y="514.6" width="5.4" height="1.2" fill="#f0622d"/>
<rect x="640.6" y="511.2" width="1.2" height="19.8" fill="#f0622d"/>
<rect x="638.5" y="516.1" width="5.4" height="8.2" fill="#f0622d"/>
<rect x="647.9" y="519.7" width="1.2" height="12.8" fill="#5dd03b"/>
<rect x="645.8" y="522.5" width="5.4" height="1.2" fill="#5dd03b"/>
<rect x="655.2" y="515.4" width="1.2" height="6.9" fill="#5dd03b"/>
<rect x="653.1" y="519.2" width="5.4" height="3.1" fill="#5dd03b"/>
<rect x="662.5" y="491.4" width="1.2" height="30.3" fill="#5dd03b"/>
<rect x="660.4" y="494" width="5.4" height="25.7" fill="#5dd03b"/>
<rect x="669.8" y="492" width="1.2" height="9.9" fill="#f0622d"/>
<rect x="667.7" y="494.3" width="5.4" height="6.9" fill="#f0622d"/>
<rect x="677.1" y="494" width="1.2" height="7.9" fill="#5dd03b"/>
<rect x="675" y="496.6" width="5.4" height="4.6" fill="#5dd03b"/>
<rect x="684.4" y="496" width="1.2" height="5.2" fill="#f0622d"/>
<rect x="682.3" y="496" width="5.4" height="1.2" fill="#f0622d"/>
<rect x="691.7" y="495" width="1.2" height="3.8" fill="#5dd03b"/>
<rect x="689.6" y="496" width="5.4" height="1.2" fill="#5dd03b"/>
<rect x="699" y="495" width="1.2" height="9" fill="#f0622d"/>
<rect x="696.9" y="496.4" width="5.4" height="5.3" fill="#f0622d"/>
<rect x="706.3" y="497.1" width="1.2" height="8.7" fill="#5dd03b"/>
<rect x="704.2" y="498.6" width="5.4" height="2.9" fill="#5dd03b"/>
<rect x="713.6" y="497.8" width="1.2" height="28.1" fill="#f0622d"/>
<rect x="711.5" y="498.4" width="5.4" height="23.9" fill="#f0622d"/>
<rect x="720.9" y="512.2" width="1.2" height="27.5" fill="#f0622d"/>
<rect x="718.8" y="522.1" width="5.4" height="16.6" fill="#f0622d"/>
<rect x="728.2" y="526.4" width="1.2" height="14.4" fill="#5dd03b"/>
<rect x="726.1" y="527.4" width="5.4" height="10.8" fill="#5dd03b"/>
<rect x="735.5" y="522.1" width="1.2" height="9.4" fill="#5dd03b"/>
<rect x="733.4" y="524.8" width="5.4" height="2.8" fill="#5dd03b"/>
<rect x="742.8" y="524.3" width="1.2" height="6.7" fill="#f0622d"/>
<rect x="740.7" y="525" width="5.4" height="3.9" fill="#f0622d"/>
<rect x="750.1" y="527.4" width="1.2" height="14.4" fill="#f0622d"/>
<rect x="748" y="528.9" width="5.4" height="11.9" fill="#f0622d"/>
<rect x="757.4" y="536.1" width="1.2" height="12.4" fill="#5dd03b"/>
<rect x="755.3" y="537.2" width="5.4" height="3.6" fill="#5dd03b"/>
<rect x="764.7" y="536.4" width="1.2" height="10" fill="#f0622d"/>
<rect x="762.6" y="536.4" width="5.4" height="1.2" fill="#f0622d"/>
<rect x="772" y="524.8" width="1.2" height="13.4" fill="#5dd03b"/>
<rect x="769.9" y="530" width="5.4" height="8.2" fill="#5dd03b"/>
<rect x="779.3" y="519.2" width="1.2" height="11.8" fill="#5dd03b"/>
<rect x="777.2" y="524.3" width="5.4" height="5.7" fill="#5dd03b"/>
<rect x="786.6" y="506.3" width="1.2" height="23.7" fill="#5dd03b"/>
<rect x="784.5" y="509.9" width="5.4" height="14.9" fill="#5dd03b"/>
<rect x="793.9" y="504.3" width="1.2" height="21.6" fill="#f0622d"/>
<rect x="791.8" y="509.9" width="5.4" height="7.7" fill="#f0622d"/>
<rect x="801.2" y="513.2" width="1.2" height="29.1" fill="#f0622d"/>
<rect x="799.1" y="517.3" width="5.4" height="24" fill="#f0622d"/>
<rect x="808.5" y="520.2" width="1.2" height="31.7" fill="#5dd03b"/>
<rect x="806.4" y="537.2" width="5.4" height="3.6" fill="#5dd03b"/>
<rect x="815.8" y="524.5" width="1.2" height="31.7" fill="#f0622d"/>
<rect x="813.7" y="536.1" width="5.4" height="1.2" fill="#f0622d"/>
<rect x="823.1" y="524.5" width="1.2" height="16.3" fill="#f0622d"/>
<rect x="821" y="536.6" width="5.4" height="4.2" fill="#f0622d"/>
<rect x="830.4" y="535.4" width="1.2" height="20.3" fill="#f0622d"/>
<rect x="828.3" y="540.2" width="5.4" height="13.4" fill="#f0622d"/>
<rect x="837.7" y="487.1" width="1.2" height="67.9" fill="#5dd03b"/>
<rect x="835.6" y="493.5" width="5.4" height="60.1" fill="#5dd03b"/>
<rect x="845" y="485" width="1.2" height="38" fill="#f0622d"/>
<rect x="842.9" y="493.5" width="5.4" height="28.3" fill="#f0622d"/>
<rect x="852.3" y="515.4" width="1.2" height="9.9" fill="#f0622d"/>
<rect x="850.2" y="520.2" width="5.4" height="1.2" fill="#f0622d"/>
<rect x="859.6" y="518.2" width="1.2" height="9.8" fill="#f0622d"/>
<rect x="857.5" y="521.4" width="5.4" height="1.2" fill="#f0622d"/>
<rect x="866.9" y="518.4" width="1.2" height="15.4" fill="#f0622d"/>
<rect x="864.8" y="522.5" width="5.4" height="9" fill="#f0622d"/>
<rect x="874.2" y="525.3" width="1.2" height="9.3" fill="#5dd03b"/>
<rect x="872.1" y="527.4" width="5.4" height="4.1" fill="#5dd03b"/>
<rect x="881.5" y="525.3" width="1.2" height="13.9" fill="#f0622d"/>
<rect x="879.4" y="527.6" width="5.4" height="9" fill="#f0622d"/>
<rect x="888.8" y="531.7" width="1.2" height="7.5" fill="#f0622d"/>
<rect x="886.7" y="535.4" width="5.4" height="1.2" fill="#f0622d"/>
<rect x="896.1" y="534.4" width="1.2" height="8.4" fill="#f0622d"/>
<rect x="894" y="536.1" width="5.4" height="5.7" fill="#f0622d"/>
<rect x="903.4" y="538.2" width="1.2" height="5.6" fill="#f0622d"/>
<rect x="901.3" y="541.6" width="5.4" height="2.2" fill="#f0622d"/>
<rect x="910.7" y="541.5" width="1.2" height="2.5" fill="#5dd03b"/>
<rect x="908.6" y="542.2" width="5.4" height="1.2" fill="#5dd03b"/>
<rect x="918" y="538.2" width="1.2" height="8.2" fill="#5dd03b"/>
<rect x="915.9" y="539.5" width="5.4" height="3.8" fill="#5dd03b"/>
<rect x="925.3" y="530.3" width="1.2" height="11.5" fill="#5dd03b"/>
<rect x="923.2" y="538.7" width="5.4" height="1.5" fill="#5dd03b"/>
<rect x="932.6" y="535.6" width="1.2" height="7.2" fill="#5dd03b"/>
<rect x="930.5" y="536.1" width="5.4" height="2.6" fill="#5dd03b"/>
<rect x="939.9" y="534.6" width="1.2" height="9" fill="#f0622d"/>
<rect x="937.8" y="536.1" width="5.4" height="6.2" fill="#f0622d"/>
<rect x="947.2" y="536.4" width="1.2" height="7.2" fill="#5dd03b"/>
<rect x="945.1" y="536.4" width="5.4" height="5.9" fill="#5dd03b"/>
<rect x="954.5" y="536.4" width="1.2" height="7.6" fill="#f0622d"/>
<rect x="952.4" y="536.4" width="5.4" height="5.4" fill="#f0622d"/>
<rect x="961.8" y="538.9" width="1.2" height="7.3" fill="#f0622d"/>
<rect x="959.7" y="541.8" width="5.4" height="1.5" fill="#f0622d"/>
<rect x="969.1" y="537.2" width="1.2" height="9.2" fill="#5dd03b"/>
<rect x="967" y="538.2" width="5.4" height="5.4" fill="#5dd03b"/>
<rect x="976.4" y="536.2" width="1.2" height="6.4" fill="#f0622d"/>
<rect x="974.3" y="537.3" width="5.4" height="1.2" fill="#f0622d"/>
<rect x="983.7" y="537.4" width="1.2" height="4.1" fill="#f0622d"/>
<rect x="981.6" y="540" width="5.4" height="1.5" fill="#f0622d"/>
<rect x="991" y="537.4" width="1.2" height="5.6" fill="#f0622d"/>
<rect x="988.9" y="540.8" width="5.4" height="1.2" fill="#f0622d"/>
<rect x="998.3" y="536.4" width="1.2" height="7.2" fill="#f0622d"/>
<rect x="996.2" y="541.3" width="5.4" height="1.2" fill="#f0622d"/>
<rect x="1005.6" y="539.5" width="1.2" height="3" fill="#5dd03b"/>
<rect x="1003.5" y="541.5" width="5.4" height="1.2" fill="#5dd03b"/>
<rect x="1012.9" y="539" width="1.2" height="7.6" fill="#f0622d"/>
<rect x="1010.8" y="542" width="5.4" height="1.2" fill="#f0622d"/>
<rect x="1020.2" y="541" width="1.2" height="6.7" fill="#f0622d"/>
<rect x="1018.1" y="543.6" width="5.4" height="3" fill="#f0622d"/>
<rect x="1027.5" y="545.1" width="1.2" height="2.6" fill="#f0622d"/>
<rect x="1025.4" y="546.1" width="5.4" height="1.2" fill="#f0622d"/>
<rect x="1034.8" y="541" width="1.2" height="5.6" fill="#5dd03b"/>
<rect x="1032.7" y="543.6" width="5.4" height="3" fill="#5dd03b"/>
<rect x="1042.1" y="541" width="1.2" height="5.6" fill="#f0622d"/>
<rect x="1040" y="543.8" width="5.4" height="2.8" fill="#f0622d"/>
<rect x="1049.4" y="543.6" width="1.2" height="4.1" fill="#5dd03b"/>
<rect x="1047.3" y="544" width="5.4" height="1.2" fill="#5dd03b"/>
<rect x="1056.7" y="545.4" width="1.2" height="13.4" fill="#f0622d"/>
<rect x="1054.6" y="545.4" width="5.4" height="4.3" fill="#f0622d"/>
<rect x="1064" y="545.4" width="1.2" height="7.4" fill="#5dd03b"/>
<rect x="1061.9" y="548.5" width="5.4" height="1.2" fill="#5dd03b"/>
<rect x="1071.3" y="546.1" width="1.2" height="9.6" fill="#f0622d"/>
<rect x="1069.2" y="548.7" width="5.4" height="4.9" fill="#f0622d"/>
<rect x="1078.6" y="551.3" width="1.2" height="2.5" fill="#f0622d"/>
<rect x="1076.5" y="552.3" width="5.4" height="1.2" fill="#f0622d"/>
<rect x="1085.9" y="551.3" width="1.2" height="3.4" fill="#f0622d"/>
<rect x="1083.8" y="552.6" width="5.4" height="1.2" fill="#f0622d"/>
<rect x="1093.2" y="545.8" width="1.2" height="10.1" fill="#5dd03b"/>
<rect x="1091.1" y="548.7" width="5.4" height="6.2" fill="#5dd03b"/>
<rect x="1100.5" y="548.2" width="1.2" height="7.7" fill="#f0622d"/>
<rect x="1098.4" y="548.9" width="5.4" height="6.5" fill="#f0622d"/>
<rect x="1107.8" y="552.3" width="1.2" height="14.9" fill="#f0622d"/>
<rect x="1105.7" y="554.9" width="5.4" height="11.3" fill="#f0622d"/>
<rect x="1115.1" y="562.6" width="1.2" height="5.4" fill="#5dd03b"/>
<rect x="1113" y="564.9" width="5.4" height="1.2" fill="#5dd03b"/>
<rect x="1122.4" y="563.6" width="1.2" height="4.1" fill="#f0622d"/>
<rect x="1120.3" y="564.9" width="5.4" height="1.2" fill="#f0622d"/>
<rect x="1129.7" y="563.6" width="1.2" height="3.6" fill="#f0622d"/>
<rect x="1127.6" y="565.3" width="5.4" height="1.2" fill="#f0622d"/>
<rect x="1137" y="563.6" width="1.2" height="4.4" fill="#f0622d"/>
<rect x="1134.9" y="566.2" width="5.4" height="1.2" fill="#f0622d"/>
<rect x="1144.3" y="560.2" width="1.2" height="8" fill="#5dd03b"/>
<rect x="1142.2" y="564.1" width="5.4" height="2.6" fill="#5dd03b"/>
<rect x="1151.6" y="559" width="1.2" height="5.8" fill="#5dd03b"/>
<rect x="1149.5" y="561.2" width="5.4" height="3.6" fill="#5dd03b"/>
<rect x="1158.9" y="560.6" width="1.2" height="7.2" fill="#f0622d"/>
<rect x="1156.8" y="561.2" width="5.4" height="4.2" fill="#f0622d"/>
<rect x="1166.2" y="562.8" width="1.2" height="2.6" fill="#5dd03b"/>
<rect x="1164.1" y="562.8" width="5.4" height="2.6" fill="#5dd03b"/>
<rect x="1173.5" y="561.6" width="1.2" height="4" fill="#5dd03b"/>
<rect x="1171.4" y="562.1" width="5.4" height="1.2" fill="#5dd03b"/>
<rect x="1180.8" y="546.9" width="1.2" height="16.2" fill="#5dd03b"/>
<rect x="1178.7" y="546.9" width="5.4" height="16.2" fill="#5dd03b"/>
<rect x="1188.1" y="545.1" width="1.2" height="9" fill="#f0622d"/>
<rect x="1186" y="546" width="5.4" height="1.2" fill="#f0622d"/>
<rect x="1195.4" y="539.1" width="1.2" height="12.9" fill="#5dd03b"/>
<rect x="1193.3" y="540.3" width="5.4" height="8.8" fill="#5dd03b"/>
<rect x="1202.7" y="537.9" width="1.2" height="6" fill="#5dd03b"/>
<rect x="1200.6" y="538.5" width="5.4" height="1.2" fill="#5dd03b"/>
<rect x="1210" y="528.9" width="1.2" height="10.8" fill="#5dd03b"/>
<rect x="1207.9" y="535.9" width="5.4" height="3.8" fill="#5dd03b"/>
<rect x="1217.3" y="494" width="1.2" height="42.3" fill="#5dd03b"/>
<rect x="1215.2" y="494" width="5.4" height="42.3" fill="#5dd03b"/>
<rect x="1224.6" y="487.1" width="1.2" height="16.8" fill="#f0622d"/>
<rect x="1222.5" y="494" width="5.4" height="9.9" fill="#f0622d"/>
</g>
<g clip-path="url(#c2)">
<rect x="-4.1" y="618.9" width="5.8" height="9.5" fill="#5dd03b"/>
<rect x="3.2" y="625.2" width="5.8" height="3.2" fill="#5dd03b"/>
<rect x="10.5" y="625.2" width="5.8" height="3.2" fill="#5dd03b"/>
<rect x="17.8" y="617.6" width="5.8" height="10.8" fill="#5dd03b"/>
<rect x="25.1" y="628.4" width="5.8" height="33" fill="#f0622d"/>
<rect x="32.4" y="628.4" width="5.8" height="23.5" fill="#f0622d"/>
<rect x="39.7" y="628.4" width="5.8" height="4.4" fill="#f0622d"/>
<rect x="47" y="628.4" width="5.8" height="4.4" fill="#f0622d"/>
<rect x="54.3" y="623.3" width="5.8" height="5.1" fill="#5dd03b"/>
<rect x="61.6" y="607.4" width="5.8" height="21" fill="#5dd03b"/>
<rect x="68.9" y="615" width="5.8" height="13.4" fill="#5dd03b"/>
<rect x="76.2" y="615" width="5.8" height="13.4" fill="#5dd03b"/>
<rect x="83.5" y="609.3" width="5.8" height="19.1" fill="#5dd03b"/>
<rect x="90.8" y="617.6" width="5.8" height="10.8" fill="#5dd03b"/>
<rect x="98.1" y="620.1" width="5.8" height="8.3" fill="#5dd03b"/>
<rect x="105.4" y="626.2" width="5.8" height="2.2" fill="#5dd03b"/>
<rect x="112.7" y="625.5" width="5.8" height="2.9" fill="#5dd03b"/>
<rect x="120" y="628.4" width="5.8" height="3.1" fill="#f0622d"/>
<rect x="127.3" y="620.1" width="5.8" height="8.3" fill="#5dd03b"/>
<rect x="134.6" y="611.2" width="5.8" height="17.2" fill="#5dd03b"/>
<rect x="141.9" y="628.4" width="5.8" height="7" fill="#f0622d"/>
<rect x="149.2" y="623.3" width="5.8" height="5.1" fill="#5dd03b"/>
<rect x="156.5" y="608.7" width="5.8" height="19.7" fill="#5dd03b"/>
<rect x="163.8" y="615" width="5.8" height="13.4" fill="#5dd03b"/>
<rect x="171.1" y="616.3" width="5.8" height="12.1" fill="#5dd03b"/>
<rect x="178.4" y="622" width="5.8" height="6.4" fill="#5dd03b"/>
<rect x="185.7" y="627.1" width="5.8" height="1.3" fill="#5dd03b"/>
<rect x="193" y="628.4" width="5.8" height="2.5" fill="#f0622d"/>
<rect x="200.3" y="623.9" width="5.8" height="4.5" fill="#5dd03b"/>
<rect x="207.6" y="620.1" width="5.8" height="8.3" fill="#5dd03b"/>
<rect x="214.9" y="621.4" width="5.8" height="7" fill="#5dd03b"/>
<rect x="222.2" y="623.3" width="5.8" height="5.1" fill="#5dd03b"/>
<rect x="229.5" y="624.6" width="5.8" height="3.8" fill="#5dd03b"/>
<rect x="236.8" y="620.1" width="5.8" height="8.3" fill="#5dd03b"/>
<rect x="244.1" y="625.2" width="5.8" height="3.2" fill="#5dd03b"/>
<rect x="251.4" y="620.5" width="5.8" height="7.9" fill="#5dd03b"/>
<rect x="258.7" y="623.3" width="5.8" height="5.1" fill="#5dd03b"/>
<rect x="266" y="624.2" width="5.8" height="4.2" fill="#5dd03b"/>
<rect x="273.3" y="627.1" width="5.8" height="1.3" fill="#5dd03b"/>
<rect x="280.6" y="623.3" width="5.8" height="5.1" fill="#5dd03b"/>
<rect x="287.9" y="624.6" width="5.8" height="3.8" fill="#5dd03b"/>
<rect x="295.2" y="628.4" width="5.8" height="5.1" fill="#f0622d"/>
<rect x="302.5" y="622" width="5.8" height="6.4" fill="#5dd03b"/>
<rect x="309.8" y="624.6" width="5.8" height="3.8" fill="#5dd03b"/>
<rect x="317.1" y="628.4" width="5.8" height="40.6" fill="#f0622d"/>
<rect x="324.4" y="628.4" width="5.8" height="33.4" fill="#f0622d"/>
<rect x="331.7" y="628.4" width="5.8" height="19.9" fill="#f0622d"/>
<rect x="339" y="622.7" width="5.8" height="5.7" fill="#5dd03b"/>
<rect x="346.3" y="608.1" width="5.8" height="20.3" fill="#5dd03b"/>
<rect x="353.6" y="612.5" width="5.8" height="15.9" fill="#5dd03b"/>
<rect x="360.9" y="608.1" width="5.8" height="20.3" fill="#5dd03b"/>
<rect x="368.2" y="611.2" width="5.8" height="17.2" fill="#5dd03b"/>
<rect x="375.5" y="620.1" width="5.8" height="8.3" fill="#5dd03b"/>
<rect x="382.8" y="625.2" width="5.8" height="3.2" fill="#5dd03b"/>
<rect x="390.1" y="618.9" width="5.8" height="9.5" fill="#5dd03b"/>
<rect x="397.4" y="620.8" width="5.8" height="7.6" fill="#5dd03b"/>
<rect x="404.7" y="622" width="5.8" height="6.4" fill="#5dd03b"/>
<rect x="412" y="607.4" width="5.8" height="21" fill="#5dd03b"/>
<rect x="419.3" y="609.3" width="5.8" height="19.1" fill="#5dd03b"/>
<rect x="426.6" y="616.3" width="5.8" height="12.1" fill="#5dd03b"/>
<rect x="433.9" y="606.8" width="5.8" height="21.6" fill="#5dd03b"/>
<rect x="441.2" y="608.1" width="5.8" height="20.3" fill="#5dd03b"/>
<rect x="448.5" y="620.1" width="5.8" height="8.3" fill="#5dd03b"/>
<rect x="455.8" y="611.2" width="5.8" height="17.2" fill="#5dd03b"/>
<rect x="463.1" y="623.3" width="5.8" height="5.1" fill="#5dd03b"/>
<rect x="470.4" y="628.4" width="5.8" height="5.1" fill="#f0622d"/>
<rect x="477.7" y="627.1" width="5.8" height="1.3" fill="#5dd03b"/>
<rect x="485" y="628.4" width="5.8" height="4.4" fill="#f0622d"/>
<rect x="492.3" y="628.4" width="5.8" height="43.5" fill="#f0622d"/>
<rect x="499.6" y="628.4" width="5.8" height="27.4" fill="#f0622d"/>
<rect x="506.9" y="628.4" width="5.8" height="33" fill="#f0622d"/>
<rect x="514.2" y="628.4" width="5.8" height="30.4" fill="#f0622d"/>
<rect x="521.5" y="628.4" width="5.8" height="18.1" fill="#f0622d"/>
<rect x="528.8" y="628.4" width="5.8" height="13.6" fill="#f0622d"/>
<rect x="536.1" y="628.4" width="5.8" height="11.4" fill="#f0622d"/>
<rect x="543.4" y="628.4" width="5.8" height="23.5" fill="#f0622d"/>
<rect x="550.7" y="628.4" width="5.8" height="52" fill="#f0622d"/>
<rect x="558" y="628.4" width="5.8" height="36.5" fill="#f0622d"/>
<rect x="565.3" y="628.4" width="5.8" height="43.5" fill="#f0622d"/>
<rect x="572.6" y="628.4" width="5.8" height="6.3" fill="#f0622d"/>
<rect x="579.9" y="628.4" width="5.8" height="7.2" fill="#f0622d"/>
<rect x="587.2" y="628.4" width="5.8" height="32.3" fill="#f0622d"/>
<rect x="594.5" y="628.4" width="5.8" height="50.8" fill="#f0622d"/>
<rect x="601.8" y="628.4" width="5.8" height="37.2" fill="#f0622d"/>
<rect x="609.1" y="628.4" width="5.8" height="18.6" fill="#f0622d"/>
<rect x="616.4" y="627.8" width="5.8" height="1" fill="#f0622d" opacity="0.8"/>
<rect x="623.7" y="625.8" width="5.8" height="2.6" fill="#5dd03b"/>
<rect x="631" y="628.4" width="5.8" height="18.1" fill="#f0622d"/>
<rect x="638.3" y="628.4" width="5.8" height="8.9" fill="#f0622d"/>
<rect x="645.6" y="625.5" width="5.8" height="2.9" fill="#5dd03b"/>
<rect x="652.9" y="620.4" width="5.8" height="8" fill="#5dd03b"/>
<rect x="660.2" y="628.4" width="5.8" height="36.8" fill="#f0622d"/>
<rect x="667.5" y="628.4" width="5.8" height="25.4" fill="#f0622d"/>
<rect x="674.8" y="628.4" width="5.8" height="18.1" fill="#f0622d"/>
<rect x="682.1" y="628.4" width="5.8" height="28.3" fill="#f0622d"/>
<rect x="689.4" y="628.4" width="5.8" height="12.3" fill="#f0622d"/>
<rect x="696.7" y="628.4" width="5.8" height="21.6" fill="#f0622d"/>
<rect x="704" y="628.4" width="5.8" height="19" fill="#f0622d"/>
<rect x="711.3" y="620.8" width="5.8" height="7.6" fill="#5dd03b"/>
<rect x="718.6" y="613.1" width="5.8" height="15.3" fill="#5dd03b"/>
<rect x="725.9" y="613.1" width="5.8" height="15.3" fill="#5dd03b"/>
<rect x="733.2" y="611" width="5.8" height="17.4" fill="#5dd03b"/>
<rect x="740.5" y="613.8" width="5.8" height="14.6" fill="#5dd03b"/>
<rect x="747.8" y="623.5" width="5.8" height="4.9" fill="#5dd03b"/>
<rect x="755.1" y="628.4" width="5.8" height="16.6" fill="#f0622d"/>
<rect x="762.4" y="628.4" width="5.8" height="10.5" fill="#f0622d"/>
<rect x="769.7" y="628.4" width="5.8" height="4.8" fill="#f0622d"/>
<rect x="777" y="610.1" width="5.8" height="18.3" fill="#5dd03b"/>
<rect x="784.3" y="613.6" width="5.8" height="14.8" fill="#5dd03b"/>
<rect x="791.6" y="618.2" width="5.8" height="10.2" fill="#5dd03b"/>
<rect x="798.9" y="618.9" width="5.8" height="9.5" fill="#5dd03b"/>
<rect x="806.2" y="628.4" width="5.8" height="8.3" fill="#f0622d"/>
<rect x="813.5" y="628.4" width="5.8" height="59" fill="#f0622d"/>
<rect x="820.8" y="628.4" width="5.8" height="62.3" fill="#f0622d"/>
<rect x="828.1" y="628.4" width="5.8" height="44.6" fill="#f0622d"/>
<rect x="835.4" y="628.4" width="5.8" height="94.4" fill="#f0622d"/>
<rect x="842.7" y="628.4" width="5.8" height="63.2" fill="#f0622d"/>
<rect x="850" y="628.4" width="5.8" height="32" fill="#f0622d"/>
<rect x="857.3" y="628.4" width="5.8" height="20.8" fill="#f0622d"/>
<rect x="864.6" y="628.4" width="5.8" height="25" fill="#f0622d"/>
<rect x="871.9" y="627.8" width="5.8" height="1" fill="#5dd03b" opacity="0.8"/>
<rect x="879.2" y="627.8" width="5.8" height="1" fill="#f0622d" opacity="0.8"/>
<rect x="886.5" y="628.4" width="5.8" height="18.9" fill="#f0622d"/>
<rect x="893.8" y="628.4" width="5.8" height="25.9" fill="#f0622d"/>
<rect x="901.1" y="628.4" width="5.8" height="16.1" fill="#f0622d"/>
<rect x="908.4" y="628.4" width="5.8" height="18.2" fill="#f0622d"/>
<rect x="915.7" y="628.4" width="5.8" height="31.5" fill="#f0622d"/>
<rect x="923" y="628.4" width="5.8" height="45.5" fill="#f0622d"/>
<rect x="930.3" y="628.4" width="5.8" height="56.2" fill="#f0622d"/>
<rect x="937.6" y="628.4" width="5.8" height="41.1" fill="#f0622d"/>
<rect x="944.9" y="628.4" width="5.8" height="22.2" fill="#f0622d"/>
<rect x="952.2" y="628.4" width="5.8" height="11.2" fill="#f0622d"/>
<rect x="959.5" y="628.4" width="5.8" height="31.5" fill="#f0622d"/>
<rect x="966.8" y="628.4" width="5.8" height="4.5" fill="#f0622d"/>
<rect x="974.1" y="628.4" width="5.8" height="3.8" fill="#f0622d"/>
<rect x="981.4" y="628.4" width="5.8" height="18.9" fill="#f0622d"/>
<rect x="988.7" y="628.4" width="5.8" height="11.5" fill="#f0622d"/>
<rect x="996" y="627.8" width="5.8" height="1" fill="#5dd03b" opacity="0.8"/>
<rect x="1003.3" y="628.4" width="5.8" height="20.8" fill="#f0622d"/>
<rect x="1010.6" y="628.4" width="5.8" height="49.2" fill="#f0622d"/>
<rect x="1017.9" y="628.4" width="5.8" height="32.7" fill="#f0622d"/>
<rect x="1025.2" y="628.4" width="5.8" height="30.6" fill="#f0622d"/>
<rect x="1032.5" y="628.4" width="5.8" height="32.5" fill="#f0622d"/>
<rect x="1039.8" y="628.4" width="5.8" height="17.1" fill="#f0622d"/>
<rect x="1047.1" y="625.2" width="5.8" height="3.2" fill="#5dd03b"/>
<rect x="1054.4" y="628.4" width="5.8" height="4.5" fill="#f0622d"/>
<rect x="1061.7" y="628.4" width="5.8" height="13.6" fill="#f0622d"/>
<rect x="1069" y="623.1" width="5.8" height="5.3" fill="#5dd03b"/>
<rect x="1076.3" y="621.3" width="5.8" height="7.1" fill="#5dd03b"/>
<rect x="1083.6" y="623.8" width="5.8" height="4.6" fill="#5dd03b"/>
<rect x="1090.9" y="628.4" width="5.8" height="6.9" fill="#f0622d"/>
<rect x="1098.2" y="628.4" width="5.8" height="14.3" fill="#f0622d"/>
<rect x="1105.5" y="628.4" width="5.8" height="18.9" fill="#f0622d"/>
<rect x="1112.8" y="628.4" width="5.8" height="18" fill="#f0622d"/>
<rect x="1120.1" y="628.4" width="5.8" height="7.3" fill="#f0622d"/>
<rect x="1127.4" y="627.8" width="5.8" height="1" fill="#f0622d" opacity="0.8"/>
<rect x="1134.7" y="628.4" width="5.8" height="1.6" fill="#f0622d"/>
<rect x="1142" y="628.4" width="5.8" height="5.2" fill="#f0622d"/>
<rect x="1149.3" y="628.4" width="5.8" height="18" fill="#f0622d"/>
<rect x="1156.6" y="628.4" width="5.8" height="7.3" fill="#f0622d"/>
<rect x="1163.9" y="626.2" width="5.8" height="2.2" fill="#5dd03b"/>
<rect x="1171.2" y="626.2" width="5.8" height="2.2" fill="#5dd03b"/>
<rect x="1178.5" y="628.4" width="5.8" height="22.2" fill="#f0622d"/>
<rect x="1185.8" y="628.4" width="5.8" height="25" fill="#f0622d"/>
<rect x="1193.1" y="628.4" width="5.8" height="13.6" fill="#f0622d"/>
<rect x="1200.4" y="628.4" width="5.8" height="29.2" fill="#f0622d"/>
<rect x="1207.7" y="628.4" width="5.8" height="40.2" fill="#f0622d"/>
<rect x="1215" y="628.4" width="5.8" height="23.1" fill="#f0622d"/>
<rect x="1222.3" y="628.4" width="5.8" height="62.5" fill="#f0622d"/>
</g>
<g clip-path="url(#c3)">
<rect x="-4.2" y="750.3" width="6.1" height="46.1" fill="#f0622d"/>
<rect x="3.1" y="750.3" width="6.1" height="56.7" fill="#f0622d"/>
<rect x="10.4" y="750.3" width="6.1" height="48" fill="#f0622d"/>
<rect x="17.7" y="750.3" width="6.1" height="45.4" fill="#f0622d"/>
<rect x="24.9" y="750.3" width="6.1" height="64.9" fill="#f0622d"/>
<rect x="32.3" y="750.3" width="6.1" height="54.8" fill="#f0622d"/>
<rect x="39.6" y="750.3" width="6.1" height="59.4" fill="#f0622d"/>
<rect x="46.9" y="750.3" width="6.1" height="55.1" fill="#f0622d"/>
<rect x="54.2" y="750.3" width="6.1" height="48" fill="#f0622d"/>
<rect x="61.5" y="750.3" width="6.1" height="44" fill="#f0622d"/>
<rect x="68.8" y="750.3" width="6.1" height="49" fill="#f0622d"/>
<rect x="76.1" y="750.3" width="6.1" height="46.8" fill="#f0622d"/>
<rect x="83.4" y="750.3" width="6.1" height="46.6" fill="#f0622d"/>
<rect x="90.7" y="750.3" width="6.1" height="49.4" fill="#f0622d"/>
<rect x="98" y="750.3" width="6.1" height="45.4" fill="#f0622d"/>
<rect x="105.3" y="750.3" width="6.1" height="58.7" fill="#f0622d"/>
<rect x="112.6" y="750.3" width="6.1" height="53.8" fill="#f0622d"/>
<rect x="119.9" y="750.3" width="6.1" height="53.3" fill="#f0622d"/>
<rect x="127.2" y="750.3" width="6.1" height="44" fill="#f0622d"/>
<rect x="134.4" y="750.3" width="6.1" height="45.4" fill="#f0622d"/>
<rect x="141.8" y="750.3" width="6.1" height="61.6" fill="#f0622d"/>
<rect x="149.1" y="750.3" width="6.1" height="36" fill="#f0622d"/>
<rect x="156.4" y="750.3" width="6.1" height="33.9" fill="#f0622d"/>
<rect x="163.7" y="749.5" width="6.1" height="0.9" fill="#5dd03b" opacity="0.7"/>
<rect x="170.9" y="749.5" width="6.1" height="0.9" fill="#5dd03b" opacity="0.7"/>
<rect x="178.3" y="750.3" width="6.1" height="50.9" fill="#f0622d"/>
<rect x="185.6" y="750.3" width="6.1" height="52.3" fill="#f0622d"/>
<rect x="192.9" y="750.3" width="6.1" height="52.9" fill="#f0622d"/>
<rect x="200.2" y="750.3" width="6.1" height="46.6" fill="#f0622d"/>
<rect x="207.5" y="750.3" width="6.1" height="48" fill="#f0622d"/>
<rect x="214.8" y="750.3" width="6.1" height="47.1" fill="#f0622d"/>
<rect x="222.1" y="750.3" width="6.1" height="51.5" fill="#f0622d"/>
<rect x="229.4" y="750.3" width="6.1" height="44.7" fill="#f0622d"/>
<rect x="236.7" y="750.3" width="6.1" height="55.2" fill="#f0622d"/>
<rect x="244" y="750.3" width="6.1" height="51.2" fill="#f0622d"/>
<rect x="251.3" y="750.3" width="6.1" height="50" fill="#f0622d"/>
<rect x="258.6" y="750.3" width="6.1" height="50.5" fill="#f0622d"/>
<rect x="265.9" y="750.3" width="6.1" height="50.6" fill="#f0622d"/>
<rect x="273.2" y="750.3" width="6.1" height="54.3" fill="#f0622d"/>
<rect x="280.5" y="750.3" width="6.1" height="47.1" fill="#f0622d"/>
<rect x="287.8" y="750.3" width="6.1" height="57.2" fill="#f0622d"/>
<rect x="295.1" y="750.3" width="6.1" height="54.3" fill="#f0622d"/>
<rect x="302.4" y="750.3" width="6.1" height="47.1" fill="#f0622d"/>
<rect x="309.7" y="750.3" width="6.1" height="57.2" fill="#f0622d"/>
<rect x="317" y="750.3" width="6.1" height="75" fill="#f0622d"/>
<rect x="324.3" y="750.3" width="6.1" height="64.4" fill="#f0622d"/>
<rect x="331.6" y="750.3" width="6.1" height="60.1" fill="#f0622d"/>
<rect x="338.9" y="750.3" width="6.1" height="48" fill="#f0622d"/>
<rect x="346.2" y="750.3" width="6.1" height="41.8" fill="#f0622d"/>
<rect x="353.5" y="750.3" width="6.1" height="49.4" fill="#f0622d"/>
<rect x="360.8" y="750.3" width="6.1" height="41.1" fill="#f0622d"/>
<rect x="368.1" y="750.3" width="6.1" height="51.5" fill="#f0622d"/>
<rect x="375.4" y="750.3" width="6.1" height="52.3" fill="#f0622d"/>
<rect x="382.7" y="750.3" width="6.1" height="46.1" fill="#f0622d"/>
<rect x="390" y="750.3" width="6.1" height="46.1" fill="#f0622d"/>
<rect x="397.3" y="750.3" width="6.1" height="49" fill="#f0622d"/>
<rect x="404.6" y="750.3" width="6.1" height="44.7" fill="#f0622d"/>
<rect x="411.9" y="750.3" width="6.1" height="36.7" fill="#f0622d"/>
<rect x="419.2" y="750.3" width="6.1" height="47.1" fill="#f0622d"/>
<rect x="426.5" y="750.3" width="6.1" height="42.8" fill="#f0622d"/>
<rect x="433.8" y="750.3" width="6.1" height="30.7" fill="#f0622d"/>
<rect x="441.1" y="750.3" width="6.1" height="46.6" fill="#f0622d"/>
<rect x="448.4" y="750.3" width="6.1" height="44.7" fill="#f0622d"/>
<rect x="455.7" y="750.3" width="6.1" height="42.8" fill="#f0622d"/>
<rect x="463" y="750.3" width="6.1" height="51.5" fill="#f0622d"/>
<rect x="470.3" y="750.3" width="6.1" height="59.1" fill="#f0622d"/>
<rect x="477.6" y="750.3" width="6.1" height="50" fill="#f0622d"/>
<rect x="484.9" y="750.3" width="6.1" height="64.4" fill="#f0622d"/>
<rect x="492.2" y="750.3" width="6.1" height="72.1" fill="#f0622d"/>
<rect x="499.5" y="750.3" width="6.1" height="61" fill="#f0622d"/>
<rect x="506.8" y="750.3" width="6.1" height="71.7" fill="#f0622d"/>
<rect x="514.1" y="750.3" width="6.1" height="70.6" fill="#f0622d"/>
<rect x="521.4" y="750.3" width="6.1" height="60.1" fill="#f0622d"/>
<rect x="528.7" y="750.3" width="6.1" height="61.6" fill="#f0622d"/>
<rect x="536" y="750.3" width="6.1" height="52.9" fill="#f0622d"/>
<rect x="543.3" y="750.3" width="6.1" height="78.1" fill="#f0622d"/>
<rect x="550.6" y="750.3" width="6.1" height="77.1" fill="#f0622d"/>
<rect x="557.9" y="750.3" width="6.1" height="66.6" fill="#f0622d"/>
<rect x="565.2" y="750.3" width="6.1" height="74.3" fill="#f0622d"/>
<rect x="572.5" y="750.3" width="6.1" height="51.5" fill="#f0622d"/>
<rect x="579.8" y="750.3" width="6.1" height="55.9" fill="#f0622d"/>
<rect x="587.1" y="750.3" width="6.1" height="78.6" fill="#f0622d"/>
<rect x="594.4" y="750.3" width="6.1" height="78.6" fill="#f0622d"/>
<rect x="601.7" y="750.3" width="6.1" height="61.6" fill="#f0622d"/>
<rect x="609" y="750.3" width="6.1" height="61.6" fill="#f0622d"/>
<rect x="616.3" y="750.3" width="6.1" height="52.3" fill="#f0622d"/>
<rect x="623.6" y="750.3" width="6.1" height="62.4" fill="#f0622d"/>
<rect x="630.9" y="750.3" width="6.1" height="61.6" fill="#f0622d"/>
<rect x="638.2" y="750.3" width="6.1" height="54.3" fill="#f0622d"/>
<rect x="645.5" y="750.3" width="6.1" height="52.3" fill="#f0622d"/>
<rect x="652.8" y="750.3" width="6.1" height="54.3" fill="#f0622d"/>
<rect x="660.1" y="750.3" width="6.1" height="73.5" fill="#f0622d"/>
<rect x="667.4" y="750.3" width="6.1" height="66.8" fill="#f0622d"/>
<rect x="674.7" y="750.3" width="6.1" height="65.3" fill="#f0622d"/>
<rect x="682" y="750.3" width="6.1" height="65.6" fill="#f0622d"/>
<rect x="689.3" y="750.3" width="6.1" height="60.1" fill="#f0622d"/>
<rect x="696.6" y="750.3" width="6.1" height="65.9" fill="#f0622d"/>
<rect x="703.9" y="750.3" width="6.1" height="55.2" fill="#f0622d"/>
<rect x="711.2" y="750.3" width="6.1" height="49" fill="#f0622d"/>
<rect x="718.5" y="750.3" width="6.1" height="41.8" fill="#f0622d"/>
<rect x="725.8" y="750.3" width="6.1" height="39.6" fill="#f0622d"/>
<rect x="733.1" y="750.3" width="6.1" height="38.9" fill="#f0622d"/>
<rect x="740.4" y="750.3" width="6.1" height="47.1" fill="#f0622d"/>
<rect x="747.7" y="750.3" width="6.1" height="59.4" fill="#f0622d"/>
<rect x="755" y="750.3" width="6.1" height="65.3" fill="#f0622d"/>
<rect x="762.3" y="750.3" width="6.1" height="61.6" fill="#f0622d"/>
<rect x="769.6" y="750.3" width="6.1" height="49.7" fill="#f0622d"/>
<rect x="776.9" y="750.3" width="6.1" height="43.2" fill="#f0622d"/>
<rect x="784.2" y="750.3" width="6.1" height="46.1" fill="#f0622d"/>
<rect x="791.5" y="750.3" width="6.1" height="52.3" fill="#f0622d"/>
<rect x="798.8" y="750.3" width="6.1" height="50" fill="#f0622d"/>
<rect x="806.1" y="750.3" width="6.1" height="69.4" fill="#f0622d"/>
<rect x="813.4" y="750.3" width="6.1" height="86.5" fill="#f0622d"/>
<rect x="820.7" y="750.3" width="6.1" height="93.7" fill="#f0622d"/>
<rect x="828" y="750.3" width="6.1" height="78.3" fill="#f0622d"/>
<rect x="835.3" y="750.3" width="6.1" height="116.4" fill="#f0622d"/>
<rect x="842.6" y="750.3" width="6.1" height="67.3" fill="#f0622d"/>
<rect x="849.9" y="750.3" width="6.1" height="76.7" fill="#f0622d"/>
<rect x="857.2" y="750.3" width="6.1" height="60.3" fill="#f0622d"/>
<rect x="864.5" y="750.3" width="6.1" height="63.7" fill="#f0622d"/>
<rect x="871.8" y="750.3" width="6.1" height="47.3" fill="#f0622d"/>
<rect x="879.1" y="750.3" width="6.1" height="59.4" fill="#f0622d"/>
<rect x="886.4" y="750.3" width="6.1" height="68.2" fill="#f0622d"/>
<rect x="893.7" y="750.3" width="6.1" height="61.6" fill="#f0622d"/>
<rect x="901" y="750.3" width="6.1" height="61.3" fill="#f0622d"/>
<rect x="908.3" y="750.3" width="6.1" height="64.4" fill="#f0622d"/>
<rect x="915.6" y="750.3" width="6.1" height="75.7" fill="#f0622d"/>
<rect x="922.9" y="750.3" width="6.1" height="77.1" fill="#f0622d"/>
<rect x="930.2" y="750.3" width="6.1" height="76" fill="#f0622d"/>
<rect x="937.5" y="750.3" width="6.1" height="68.9" fill="#f0622d"/>
<rect x="944.8" y="750.3" width="6.1" height="61.3" fill="#f0622d"/>
<rect x="952.1" y="750.3" width="6.1" height="66" fill="#f0622d"/>
<rect x="959.4" y="750.3" width="6.1" height="62.4" fill="#f0622d"/>
<rect x="966.7" y="750.3" width="6.1" height="52.6" fill="#f0622d"/>
<rect x="974" y="750.3" width="6.1" height="63" fill="#f0622d"/>
<rect x="981.3" y="750.3" width="6.1" height="56.9" fill="#f0622d"/>
<rect x="988.6" y="750.3" width="6.1" height="59.5" fill="#f0622d"/>
<rect x="995.9" y="750.3" width="6.1" height="55.2" fill="#f0622d"/>
<rect x="1003.2" y="750.3" width="6.1" height="72.4" fill="#f0622d"/>
<rect x="1010.5" y="750.3" width="6.1" height="74" fill="#f0622d"/>
<rect x="1017.8" y="750.3" width="6.1" height="64.9" fill="#f0622d"/>
<rect x="1025.1" y="750.3" width="6.1" height="70.6" fill="#f0622d"/>
<rect x="1032.4" y="750.3" width="6.1" height="69.2" fill="#f0622d"/>
<rect x="1039.7" y="750.3" width="6.1" height="55.2" fill="#f0622d"/>
<rect x="1047" y="750.3" width="6.1" height="51.2" fill="#f0622d"/>
<rect x="1054.2" y="750.3" width="6.1" height="61.3" fill="#f0622d"/>
<rect x="1061.6" y="750.3" width="6.1" height="53.3" fill="#f0622d"/>
<rect x="1068.9" y="750.3" width="6.1" height="55.5" fill="#f0622d"/>
<rect x="1076.2" y="750.3" width="6.1" height="50.7" fill="#f0622d"/>
<rect x="1083.5" y="750.3" width="6.1" height="58.4" fill="#f0622d"/>
<rect x="1090.8" y="750.3" width="6.1" height="58.7" fill="#f0622d"/>
<rect x="1098.1" y="750.3" width="6.1" height="66" fill="#f0622d"/>
<rect x="1105.4" y="750.3" width="6.1" height="66.8" fill="#f0622d"/>
<rect x="1112.7" y="750.3" width="6.1" height="60.3" fill="#f0622d"/>
<rect x="1120" y="750.3" width="6.1" height="57.7" fill="#f0622d"/>
<rect x="1127.2" y="750.3" width="6.1" height="61.3" fill="#f0622d"/>
<rect x="1134.6" y="750.3" width="6.1" height="51.6" fill="#f0622d"/>
<rect x="1141.9" y="750.3" width="6.1" height="63.9" fill="#f0622d"/>
<rect x="1149.2" y="750.3" width="6.1" height="63.1" fill="#f0622d"/>
<rect x="1156.5" y="750.3" width="6.1" height="52.6" fill="#f0622d"/>
<rect x="1163.8" y="750.3" width="6.1" height="57.7" fill="#f0622d"/>
<rect x="1171.1" y="750.3" width="6.1" height="57.7" fill="#f0622d"/>
<rect x="1178.4" y="750.3" width="6.1" height="73.8" fill="#f0622d"/>
<rect x="1185.7" y="750.3" width="6.1" height="60.3" fill="#f0622d"/>
<rect x="1193" y="750.3" width="6.1" height="62.4" fill="#f0622d"/>
<rect x="1200.2" y="750.3" width="6.1" height="68.9" fill="#f0622d"/>
<rect x="1207.6" y="750.3" width="6.1" height="68.9" fill="#f0622d"/>
<rect x="1214.9" y="750.3" width="6.1" height="77.4" fill="#f0622d"/>
<rect x="1222.2" y="750.3" width="6.1" height="70.6" fill="#f0622d"/>
</g>
<rect x="2" y="3" width="670" height="34.5" fill="rgba(0,0,0,0.45)"/>
<rect x="2" y="454" width="829" height="33.6" fill="rgba(0,0,0,0.45)"/>
<rect x="2" y="598" width="713.8" height="34" fill="rgba(0,0,0,0.45)"/>
<rect x="2" y="742" width="641.6" height="33.8" fill="rgba(0,0,0,0.45)"/>
<rect x="0" y="446.8" width="2029" height="1.6" fill="#efefef"/>
<rect x="0" y="590.8" width="2042" height="1.6" fill="#efefef"/>
<rect x="0" y="734.9" width="2043" height="1.6" fill="#efefef"/>
<rect x="0" y="878.1" width="2045" height="1.8" fill="#efefef"/>
<rect x="1932.3" y="0" width="1.5" height="915" fill="#efefef"/>
<defs><linearGradient id="gs" x1="0" x2="1"><stop offset="0" stop-color="#555"/><stop offset="0.25" stop-color="#7a7a7a"/><stop offset="1" stop-color="#777"/></linearGradient></defs>
<rect x="9.2" y="75.4" width="39.4" height="28.4" rx="3.5" fill="none" stroke="#4c4e57" stroke-width="1.15"/>
<path d="M23.4 92.6 L29 87.5 L34.6 92.6" fill="none" stroke="#fff" stroke-width="1.5"/>
<circle cx="36" cy="838.2" r="23.4" fill="#171b28" stroke="#50535e" stroke-width="1.3"/>
<path d="M21 830.7 H33.7 V846.6 H27.7 V835.9 H21 Z" fill="#fff"/>
<circle cx="38" cy="833.6" r="2.7" fill="#fff"/>
<path d="M44.4 830.7 H51.2 L45.5 846.6 H38.4 Z" fill="#fff"/>
</svg>
<div class="t ax" style="left:1944.20px;top:30.73px;font-size:16px;color:#eaecf0;letter-spacing:1.540px;">1.8000</div><div class="t ax" style="left:1944.20px;top:115.63px;font-size:16px;color:#eaecf0;letter-spacing:1.540px;">1.6000</div><div class="t ax" style="left:1944.20px;top:162.03px;font-size:16px;color:#eaecf0;letter-spacing:1.540px;">1.5000</div><div class="t ax" style="left:1944.20px;top:211.13px;font-size:16px;color:#eaecf0;letter-spacing:1.540px;">1.4000</div><div class="t ax" style="left:1944.20px;top:264.73px;font-size:16px;color:#eaecf0;letter-spacing:1.540px;">1.3000</div><div class="t ax" style="left:1944.20px;top:321.93px;font-size:16px;color:#eaecf0;letter-spacing:1.540px;">1.2000</div><div class="t ax" style="left:1944.20px;top:371.53px;font-size:16px;color:#eaecf0;letter-spacing:1.540px;">1.1200</div><div class="t ax" style="left:1944.20px;top:450.63px;font-size:16px;color:#eaecf0;letter-spacing:1.000px;">1<i class="ts"></i>B</div><div class="t ax" style="left:1945.20px;top:523.83px;font-size:16px;color:#eaecf0;letter-spacing:1.867px;">800<i class="ts"></i>M</div><div class="t ax" style="left:1945.20px;top:621.83px;font-size:16px;color:#eaecf0;letter-spacing:1.450px;">0</div><div class="t ax" style="left:1944.20px;top:667.33px;font-size:16px;color:#eaecf0;letter-spacing:1.600px;">−0.02</div><div class="t ax" style="left:1944.20px;top:710.93px;font-size:16px;color:#eaecf0;letter-spacing:1.600px;">−0.04</div><div class="t ax" style="left:1945.20px;top:743.93px;font-size:16px;color:#eaecf0;letter-spacing:1.450px;">0</div><div class="t ax" style="left:1944.20px;top:794.23px;font-size:16px;color:#eaecf0;letter-spacing:1.525px;">−0.05</div><div class="t ax" style="left:1944.20px;top:844.93px;font-size:16px;color:#eaecf0;letter-spacing:1.200px;">−0.1</div>
<div class="tag" style="top:99.7px;width:76.4px;height:23.1px"></div><div class="tag" style="top:418px;width:105.0px;height:24.0px"></div><div class="tag" style="top:491.8px;width:105.0px;height:23.2px"></div><div class="tag" style="top:679px;width:77.0px;height:23.2px"></div><div class="tag" style="top:808.5px;width:86.3px;height:23.0px"></div><div class="t ax" style="left:1944.20px;top:103.98px;font-size:16px;color:#fff6ee;letter-spacing:1.540px;">1.6229</div><div class="t ax" style="left:1944.20px;top:422.73px;font-size:16px;color:#fff6ee;letter-spacing:1.786px;">146.285<i class="ts"></i>M</div><div class="t ax" style="left:1945.20px;top:496.13px;font-size:16px;color:#fff6ee;letter-spacing:1.771px;">873.871<i class="ts"></i>M</div><div class="t ax" style="left:1944.20px;top:683.33px;font-size:16px;color:#fff6ee;letter-spacing:1.600px;">−0.028</div><div class="t ax" style="left:1944.20px;top:812.73px;font-size:16px;color:#fff6ee;letter-spacing:1.783px;">−0.0689</div>
<svg width="2048" height="915" viewBox="0 0 2048 915" style="position:absolute;left:0;top:0"><defs><linearGradient id="gs2" x1="0" x2="1"><stop offset="0" stop-color="#4a4a4a"/><stop offset="0.3" stop-color="#7a7a7a"/><stop offset="1" stop-color="#767676"/></linearGradient></defs><rect x="2029" y="428" width="30" height="55" rx="13" fill="#1b1b1b"/><rect x="2042" y="0" width="6" height="738" fill="url(#gs2)"/><rect x="2045" y="738" width="3" height="177" fill="#ececec"/><path d="M2042.3 451.8 L2037 456.4 L2042.3 461" fill="none" stroke="#fff" stroke-width="1.6"/></svg>
<div class="t lg" style="left:9.40px;top:11.90px;font-size:21px;color:#ffffff;letter-spacing:-0.150px;">XRPUSDT</div><div class="t lg" style="left:115.30px;top:11.90px;font-size:21px;color:#ffffff;">·</div><div class="t lg" style="left:127.30px;top:11.90px;font-size:21px;color:#ffffff;letter-spacing:1.000px;">4h</div><div class="t lg" style="left:157.20px;top:11.90px;font-size:21px;color:#ffffff;">·</div><div class="t lg" style="left:169.90px;top:11.90px;font-size:21px;color:#ffffff;letter-spacing:0.764px;">Binance-Futures</div><div class="t lg" style="left:347.85px;top:14.10px;font-size:17px;color:#ffffff;">O</div><div class="t lg" style="left:363.20px;top:14.10px;font-size:17px;color:#f0622d;letter-spacing:1.240px;">1.6482</div><div class="t lg" style="left:431.65px;top:14.10px;font-size:17px;color:#ffffff;">H</div><div class="t lg" style="left:446.00px;top:14.10px;font-size:17px;color:#f0622d;letter-spacing:1.200px;">1.6693</div><div class="t lg" style="left:513.65px;top:14.10px;font-size:17px;color:#ffffff;">L</div><div class="t lg" style="left:525.50px;top:14.10px;font-size:17px;color:#f0622d;letter-spacing:1.100px;">1.6143</div><div class="t lg" style="left:592.70px;top:14.10px;font-size:17px;color:#ffffff;">C</div><div class="t lg" style="left:606.70px;top:14.10px;font-size:17px;color:#f0622d;letter-spacing:1.420px;">1.6229</div><div class="t lg" style="left:9.40px;top:47.50px;font-size:16.5px;color:#ffffff;letter-spacing:0.733px;">Volume SMA</div><div class="t lg" style="left:124.30px;top:47.50px;font-size:17px;color:#f0622d;letter-spacing:1.671px;">146.285<i class="ts"></i>M</div><div class="t lg" style="left:9.20px;top:463.50px;font-size:17px;color:#ffffff;letter-spacing:0.020px;">&lt;Velo&gt;</div><div class="t lg" style="left:68.40px;top:463.50px;font-size:17px;color:#ffffff;letter-spacing:1.111px;">Aggregated</div><div class="t lg" style="left:170.60px;top:463.50px;font-size:17px;color:#ffffff;letter-spacing:0.900px;">Open</div><div class="t lg" style="left:219.00px;top:463.50px;font-size:17px;color:#ffffff;letter-spacing:0.729px;">Interest</div><div class="t lg" style="left:287.60px;top:463.50px;font-size:17px;color:#ffffff;letter-spacing:0.700px;">Dollars</div><div class="t lg" style="left:348.70px;top:463.50px;font-size:17px;color:#ffffff;letter-spacing:0.583px;">Candles</div><div class="t ax" style="left:426.40px;top:466.20px;font-size:14px;color:#cfcfcf;">∅</div><div class="t lg" style="left:449.00px;top:463.50px;font-size:17px;color:#f0622d;letter-spacing:1.543px;">898.353<i class="ts"></i>M</div><div class="t lg" style="left:546.00px;top:463.50px;font-size:17px;color:#f0622d;letter-spacing:1.429px;">918.973<i class="ts"></i>M</div><div class="t lg" style="left:642.70px;top:463.50px;font-size:17px;color:#f0622d;letter-spacing:1.429px;">873.131<i class="ts"></i>M</div><div class="t lg" style="left:739.00px;top:463.50px;font-size:17px;color:#f0622d;letter-spacing:1.543px;">873.871<i class="ts"></i>M</div><div class="t lg" style="left:9.20px;top:607.40px;font-size:17px;color:#ffffff;letter-spacing:0.020px;">&lt;Velo&gt;</div><div class="t lg" style="left:68.40px;top:607.40px;font-size:17px;color:#ffffff;letter-spacing:1.111px;">Aggregated</div><div class="t lg" style="left:170.30px;top:607.40px;font-size:17px;color:#ffffff;letter-spacing:0.433px;">Funding</div><div class="t lg" style="left:242.50px;top:607.40px;font-size:17px;color:#ffffff;letter-spacing:-0.100px;">Rate</div><div class="t lg" style="left:283.30px;top:607.40px;font-size:17px;color:#ffffff;letter-spacing:-0.300px;transform:scaleX(0.852);transform-origin:1px 0;">(%)</div><div class="t lg" style="left:310.40px;top:607.40px;font-size:17px;color:#ffffff;letter-spacing:0.967px;">Open</div><div class="t lg" style="left:358.90px;top:607.40px;font-size:17px;color:#ffffff;letter-spacing:0.657px;">Interest</div><div class="t lg" style="left:424.50px;top:607.40px;font-size:17px;color:#ffffff;letter-spacing:0.857px;">Weighted</div><div class="t lg" style="left:508.15px;top:607.40px;font-size:17px;color:#ffffff;">8</div><div class="t lg" style="left:522.50px;top:607.40px;font-size:17px;color:#ffffff;letter-spacing:0.500px;">Hours</div><div class="t lg" style="left:574.40px;top:607.40px;font-size:17px;color:#ffffff;letter-spacing:0.717px;">Average</div><div class="t lg" style="left:654.60px;top:607.40px;font-size:17px;color:#f0622d;letter-spacing:0.960px;">−0.028</div><div class="t lg" style="left:9.20px;top:751.40px;font-size:17px;color:#ffffff;letter-spacing:0.020px;">&lt;Velo&gt;</div><div class="t lg" style="left:68.40px;top:751.40px;font-size:17px;color:#ffffff;letter-spacing:1.111px;">Aggregated</div><div class="t lg" style="left:170.30px;top:751.40px;font-size:17px;color:#ffffff;letter-spacing:0.800px;">Premium</div><div class="t lg" style="left:248.90px;top:751.40px;font-size:17px;color:#ffffff;letter-spacing:-0.300px;transform:scaleX(0.873);transform-origin:1px 0;">(%)</div><div class="t lg" style="left:276.10px;top:751.40px;font-size:17px;color:#ffffff;letter-spacing:0.967px;">Open</div><div class="t lg" style="left:324.70px;top:751.40px;font-size:17px;color:#ffffff;letter-spacing:0.600px;">Interest</div><div class="t lg" style="left:392.00px;top:751.40px;font-size:17px;color:#ffffff;letter-spacing:0.786px;">Weighted</div><div class="t lg" style="left:474.60px;top:751.40px;font-size:17px;color:#ffffff;letter-spacing:0.517px;">Average</div><div class="t lg" style="left:545.30px;top:751.40px;font-size:17px;color:#ffffff;">1</div><div class="t lg" style="left:569.60px;top:751.40px;font-size:17px;color:#f0622d;letter-spacing:0.800px;">−0.0689</div><div class="t ax" style="left:10.90px;top:892.43px;font-size:16px;color:#eaecf0;letter-spacing:2.000px;">19</div><div class="t ax" style="left:141.60px;top:892.43px;font-size:16px;color:#eaecf0;letter-spacing:2.000px;">22</div><div class="t ax" style="left:273.30px;top:892.43px;font-size:16px;color:#eaecf0;letter-spacing:2.000px;">25</div><div class="t ax" style="left:404.90px;top:892.43px;font-size:16px;color:#eaecf0;letter-spacing:2.000px;">28</div><div class="t" style="left:573.60px;top:892.43px;font-size:16px;color:#fff;font-weight:700;letter-spacing:1.500px;">Feb</div><div class="t ax" style="left:716.00px;top:892.43px;font-size:16px;color:#eaecf0;letter-spacing:1.000px;">4</div><div class="t ax" style="left:847.60px;top:892.43px;font-size:16px;color:#eaecf0;letter-spacing:1.000px;">7</div><div class="t ax" style="left:973.80px;top:892.43px;font-size:16px;color:#eaecf0;letter-spacing:2.000px;">10</div><div class="t ax" style="left:1105.40px;top:892.43px;font-size:16px;color:#eaecf0;letter-spacing:2.000px;">13</div><div class="t ax" style="left:1236.30px;top:892.43px;font-size:16px;color:#eaecf0;letter-spacing:2.000px;">16</div><div class="t ax" style="left:1368.10px;top:892.43px;font-size:16px;color:#eaecf0;letter-spacing:2.000px;">19</div><div class="t ax" style="left:1499.30px;top:892.43px;font-size:16px;color:#eaecf0;letter-spacing:2.000px;">22</div><div class="t ax" style="left:1630.90px;top:892.43px;font-size:16px;color:#eaecf0;letter-spacing:2.000px;">25</div><div class="t" style="left:1799.00px;top:892.43px;font-size:16px;color:#fff;font-weight:700;letter-spacing:1.500px;">Mar</div>
</body></html>
